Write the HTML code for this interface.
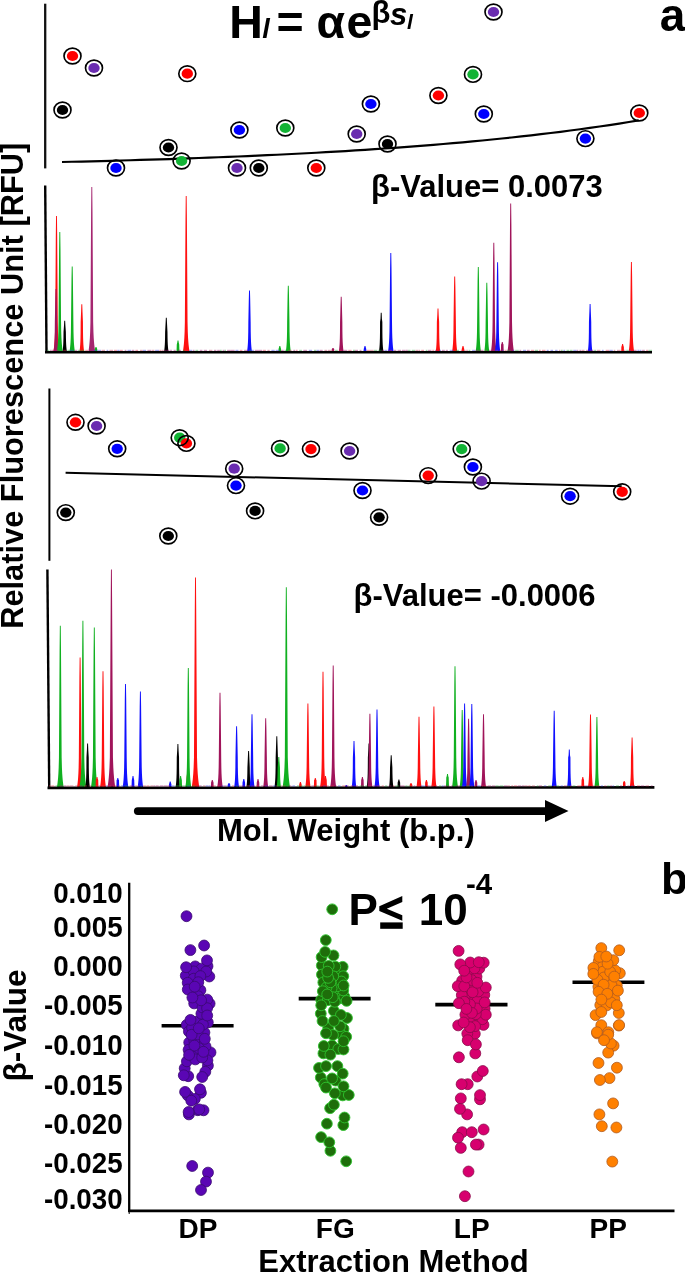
<!DOCTYPE html>
<html><head><meta charset="utf-8"><style>html,body{margin:0;padding:0;background:#fff;}svg{display:block;filter:blur(0.3px);}</style></head>
<body><svg width="685" height="1275" viewBox="0 0 685 1275">
<rect width="685" height="1275" fill="#fff"/>
<line x1="45.2" y1="3.7" x2="45.2" y2="168.4" stroke="#111" stroke-width="2.3"/>
<line x1="45.2" y1="185.4" x2="46.5" y2="352.5" stroke="#000" stroke-width="2.4"/>
<line x1="49.4" y1="388.5" x2="49.4" y2="560.8" stroke="#000" stroke-width="2"/>
<line x1="47.4" y1="569.4" x2="49.2" y2="787.5" stroke="#000" stroke-width="2.4"/>
<polygon fill="#ff1010" points="53.31,352.0 53.55,350.5 53.77,349.0 54.02,347.0 54.28,344.5 54.49,342.0 54.75,338.0 55.00,332.0 55.22,322.0 55.80,236.4 56.05,216.0 56.95,216.0 57.20,236.4 57.78,322.0 58.00,332.0 58.25,338.0 58.51,342.0 58.72,344.5 58.98,347.0 59.23,349.0 59.45,350.5 59.69,352.0"/>
<polygon fill="#a0145a" points="53.46,352.0 53.70,350.5 53.90,349.0 54.11,347.0 54.32,344.5 54.46,342.0 54.63,338.0 54.76,332.0 54.84,322.0 55.30,298.4 55.55,289.0 56.45,289.0 56.70,298.4 57.16,322.0 57.24,332.0 57.37,338.0 57.54,342.0 57.68,344.5 57.89,347.0 58.10,349.0 58.30,350.5 58.54,352.0"/>
<polygon fill="#10b020" points="56.75,352.0 57.00,350.5 57.21,349.0 57.45,347.0 57.70,344.5 57.90,342.0 58.14,338.0 58.37,332.0 58.55,322.0 59.10,250.0 59.35,232.0 60.25,232.0 60.50,250.0 61.05,322.0 61.23,332.0 61.46,338.0 61.70,342.0 61.90,344.5 62.15,347.0 62.39,349.0 62.60,350.5 62.85,352.0"/>
<polygon fill="#000000" points="62.45,352.0 62.68,350.5 62.86,349.0 63.05,347.0 63.22,344.5 63.33,342.0 63.45,338.0 63.53,332.0 64.00,325.5 64.25,320.8 65.15,320.8 65.40,325.5 65.87,332.0 65.95,338.0 66.07,342.0 66.18,344.5 66.35,347.0 66.54,349.0 66.72,350.5 66.95,352.0"/>
<polygon fill="#10b020" points="69.46,352.0 69.70,350.5 69.91,349.0 70.13,347.0 70.36,344.5 70.53,342.0 70.72,338.0 70.89,332.0 71.02,322.0 71.50,279.2 71.75,266.4 72.65,266.4 72.90,279.2 73.38,322.0 73.51,332.0 73.68,338.0 73.87,342.0 74.04,344.5 74.27,347.0 74.49,349.0 74.70,350.5 74.94,352.0"/>
<polygon fill="#ff1010" points="79.40,352.0 79.63,350.5 79.83,349.0 80.03,347.0 80.22,344.5 80.35,342.0 80.49,338.0 80.59,332.0 80.66,322.0 81.10,311.4 81.35,304.2 82.25,304.2 82.50,311.4 82.94,322.0 83.01,332.0 83.11,338.0 83.25,342.0 83.38,344.5 83.57,347.0 83.77,349.0 83.97,350.5 84.20,352.0"/>
<polygon fill="#a52670" points="88.34,352.0 88.59,350.5 88.82,349.0 89.08,347.0 89.35,344.5 89.58,342.0 89.87,338.0 90.16,332.0 90.44,322.0 91.10,211.8 91.35,187.0 92.25,187.0 92.50,211.8 93.16,322.0 93.44,332.0 93.73,338.0 94.02,342.0 94.25,344.5 94.52,347.0 94.78,349.0 95.01,350.5 95.25,352.0"/>
<polygon fill="#10b020" points="94.70,352.0 94.75,350.5 94.78,349.0 95.30,347.8 95.55,347.0 96.45,347.0 96.70,347.8 97.22,349.0 97.25,350.5 97.30,352.0"/>
<polygon fill="#000000" points="164.02,352.0 164.25,350.5 164.44,349.0 164.63,347.0 164.80,344.5 164.92,342.0 165.04,338.0 165.12,332.0 165.60,322.9 165.85,317.8 166.75,317.8 167.00,322.9 167.48,332.0 167.56,338.0 167.68,342.0 167.80,344.5 167.97,347.0 168.16,349.0 168.35,350.5 168.58,352.0"/>
<polygon fill="#10b020" points="176.45,352.0 176.55,350.5 176.63,349.0 176.70,347.0 176.77,344.5 177.30,342.3 177.55,340.6 178.45,340.6 178.70,342.3 179.23,344.5 179.30,347.0 179.37,349.0 179.45,350.5 179.55,352.0"/>
<polygon fill="#ff1010" points="182.83,352.0 183.08,350.5 183.30,349.0 183.55,347.0 183.83,344.5 184.05,342.0 184.33,338.0 184.61,332.0 184.86,322.0 185.50,219.4 185.75,196.0 186.65,196.0 186.90,219.4 187.54,322.0 187.79,332.0 188.07,338.0 188.35,342.0 188.57,344.5 188.85,347.0 189.10,349.0 189.32,350.5 189.57,352.0"/>
<polygon fill="#1010ff" points="246.98,352.0 247.21,350.5 247.41,349.0 247.62,347.0 247.82,344.5 247.97,342.0 248.13,338.0 248.26,332.0 248.35,322.0 248.80,299.6 249.05,290.4 249.95,290.4 250.20,299.6 250.65,322.0 250.74,332.0 250.87,338.0 251.03,342.0 251.18,344.5 251.38,347.0 251.59,349.0 251.79,350.5 252.02,352.0"/>
<polygon fill="#10b020" points="278.46,352.0 278.52,350.5 278.56,349.0 279.10,346.9 279.35,346.0 280.25,346.0 280.50,346.9 281.04,349.0 281.08,350.5 281.14,352.0"/>
<polygon fill="#10b020" points="285.73,352.0 285.97,350.5 286.17,349.0 286.39,347.0 286.59,344.5 286.75,342.0 286.91,338.0 287.05,332.0 287.14,322.0 287.60,295.6 287.85,285.7 288.75,285.7 289.00,295.6 289.46,322.0 289.55,332.0 289.69,338.0 289.85,342.0 290.01,344.5 290.21,347.0 290.43,349.0 290.63,350.5 290.87,352.0"/>
<polygon fill="#a0145a" points="331.74,352.0 331.77,350.5 331.80,349.0 332.30,348.6 332.55,348.0 333.45,348.0 333.70,348.6 334.20,349.0 334.23,350.5 334.26,352.0"/>
<polygon fill="#a0145a" points="338.73,352.0 338.97,350.5 339.17,349.0 339.37,347.0 339.57,344.5 339.71,342.0 339.86,338.0 339.98,332.0 340.05,322.0 340.50,305.1 340.75,296.8 341.65,296.8 341.90,305.1 342.35,322.0 342.42,332.0 342.54,338.0 342.69,342.0 342.83,344.5 343.03,347.0 343.23,349.0 343.43,350.5 343.67,352.0"/>
<polygon fill="#1010ff" points="363.66,352.0 363.72,350.5 363.76,349.0 364.30,346.9 364.55,346.0 365.45,346.0 365.70,346.9 366.24,349.0 366.28,350.5 366.34,352.0"/>
<polygon fill="#000000" points="378.88,352.0 379.11,350.5 379.30,349.0 379.49,347.0 379.67,344.5 379.79,342.0 379.92,338.0 380.01,332.0 380.06,322.0 380.50,318.7 380.75,312.8 381.65,312.8 381.90,318.7 382.34,322.0 382.39,332.0 382.48,338.0 382.61,342.0 382.73,344.5 382.91,347.0 383.10,349.0 383.29,350.5 383.52,352.0"/>
<polygon fill="#1010ff" points="387.94,352.0 388.18,350.5 388.39,349.0 388.63,347.0 388.86,344.5 389.04,342.0 389.25,338.0 389.45,332.0 389.59,322.0 390.10,267.9 390.35,253.0 391.25,253.0 391.50,267.9 392.01,322.0 392.15,332.0 392.35,338.0 392.56,342.0 392.74,344.5 392.97,347.0 393.21,349.0 393.42,350.5 393.66,352.0"/>
<polygon fill="#ff1010" points="435.64,352.0 435.87,350.5 436.06,349.0 436.26,347.0 436.44,344.5 436.57,342.0 436.70,338.0 436.80,332.0 436.86,322.0 437.30,315.0 437.55,308.5 438.45,308.5 438.70,315.0 439.14,322.0 439.20,332.0 439.30,338.0 439.43,342.0 439.56,344.5 439.74,347.0 439.94,349.0 440.13,350.5 440.36,352.0"/>
<polygon fill="#ff1010" points="452.05,352.0 452.29,350.5 452.49,349.0 452.71,347.0 452.93,344.5 453.09,342.0 453.27,338.0 453.42,332.0 453.53,322.0 454.00,287.7 454.25,276.4 455.15,276.4 455.40,287.7 455.87,322.0 455.98,332.0 456.13,338.0 456.31,342.0 456.47,344.5 456.69,347.0 456.91,349.0 457.11,350.5 457.35,352.0"/>
<polygon fill="#ff1010" points="461.66,352.0 461.72,350.5 461.76,349.0 462.30,346.9 462.55,346.0 463.45,346.0 463.70,346.9 464.24,349.0 464.28,350.5 464.34,352.0"/>
<polygon fill="#10b020" points="475.56,352.0 475.81,350.5 476.01,349.0 476.24,347.0 476.46,344.5 476.63,342.0 476.82,338.0 476.99,332.0 477.12,322.0 477.60,279.8 477.85,267.0 478.75,267.0 479.00,279.8 479.48,322.0 479.61,332.0 479.78,338.0 479.97,342.0 480.14,344.5 480.36,347.0 480.59,349.0 480.79,350.5 481.04,352.0"/>
<polygon fill="#10b020" points="484.21,352.0 484.45,350.5 484.65,349.0 484.86,347.0 485.07,344.5 485.23,342.0 485.40,338.0 485.54,332.0 485.64,322.0 486.10,293.2 486.35,282.8 487.25,282.8 487.50,293.2 487.96,322.0 488.06,332.0 488.20,338.0 488.37,342.0 488.53,344.5 488.74,347.0 488.95,349.0 489.15,350.5 489.39,352.0"/>
<polygon fill="#a0145a" points="490.85,352.0 491.09,350.5 491.30,349.0 491.54,347.0 491.79,344.5 491.98,342.0 492.20,338.0 492.41,332.0 492.58,322.0 493.10,259.2 493.35,242.8 494.25,242.8 494.50,259.2 495.02,322.0 495.19,332.0 495.40,338.0 495.62,342.0 495.81,344.5 496.06,347.0 496.30,349.0 496.51,350.5 496.75,352.0"/>
<polygon fill="#1010ff" points="494.82,352.0 495.07,350.5 495.27,349.0 495.50,347.0 495.73,344.5 495.90,342.0 496.10,338.0 496.28,332.0 496.41,322.0 496.90,275.8 497.15,262.3 498.05,262.3 498.30,275.8 498.79,322.0 498.92,332.0 499.10,338.0 499.30,342.0 499.47,344.5 499.70,347.0 499.93,349.0 500.13,350.5 500.38,352.0"/>
<polygon fill="#a0145a" points="500.80,352.0 500.89,350.5 500.96,349.0 501.03,347.0 501.08,344.5 501.60,343.5 501.85,342.0 502.75,342.0 503.00,343.5 503.52,344.5 503.57,347.0 503.64,349.0 503.71,350.5 503.80,352.0"/>
<polygon fill="#a0145a" points="507.39,352.0 507.64,350.5 507.86,349.0 508.12,347.0 508.38,344.5 508.60,342.0 508.87,338.0 509.14,332.0 509.38,322.0 510.00,225.7 510.25,203.4 511.15,203.4 511.40,225.7 512.02,322.0 512.26,332.0 512.53,338.0 512.80,342.0 513.02,344.5 513.28,347.0 513.54,349.0 513.76,350.5 514.01,352.0"/>
<polygon fill="#1010ff" points="587.70,352.0 587.93,350.5 588.13,349.0 588.33,347.0 588.51,344.5 588.65,342.0 588.79,338.0 588.89,332.0 588.96,322.0 589.40,311.2 589.65,304.0 590.55,304.0 590.80,311.2 591.24,322.0 591.31,332.0 591.41,338.0 591.55,342.0 591.69,344.5 591.87,347.0 592.07,349.0 592.27,350.5 592.50,352.0"/>
<polygon fill="#ff1010" points="621.18,352.0 621.26,350.5 621.31,349.0 621.36,347.0 621.90,345.2 622.15,344.0 623.05,344.0 623.30,345.2 623.84,347.0 623.89,349.0 623.94,350.5 624.02,352.0"/>
<polygon fill="#ff1010" points="628.62,352.0 628.86,350.5 629.07,349.0 629.30,347.0 629.53,344.5 629.70,342.0 629.90,338.0 630.08,332.0 630.21,322.0 630.70,275.5 630.95,262.0 631.85,262.0 632.10,275.5 632.59,322.0 632.72,332.0 632.90,338.0 633.10,342.0 633.27,344.5 633.50,347.0 633.73,349.0 633.94,350.5 634.18,352.0"/>
<polygon fill="#10b020" points="56.87,787.5 57.12,786.0 57.35,784.5 57.61,782.5 57.88,780.0 58.11,777.5 58.39,773.5 58.68,767.5 58.95,757.5 59.60,650.1 59.85,625.8 60.75,625.8 61.00,650.1 61.65,757.5 61.92,767.5 62.21,773.5 62.49,777.5 62.72,780.0 62.99,782.5 63.25,784.5 63.48,786.0 63.73,787.5"/>
<polygon fill="#ff1010" points="76.96,787.5 77.21,786.0 77.42,784.5 77.67,782.5 77.93,780.0 78.13,777.5 78.38,773.5 78.63,767.5 78.83,757.5 79.40,677.0 79.65,657.5 80.55,657.5 80.80,677.0 81.37,757.5 81.57,767.5 81.82,773.5 82.07,777.5 82.27,780.0 82.53,782.5 82.78,784.5 82.99,786.0 83.24,787.5"/>
<polygon fill="#10b020" points="79.43,787.5 79.68,786.0 79.90,784.5 80.16,782.5 80.44,780.0 80.67,777.5 80.96,773.5 81.26,767.5 81.53,757.5 82.20,645.8 82.45,620.8 83.35,620.8 83.60,645.8 84.27,757.5 84.54,767.5 84.84,773.5 85.13,777.5 85.36,780.0 85.64,782.5 85.90,784.5 86.12,786.0 86.37,787.5"/>
<polygon fill="#000000" points="85.23,787.5 85.47,786.0 85.66,784.5 85.86,782.5 86.04,780.0 86.17,777.5 86.30,773.5 86.40,767.5 86.46,757.5 86.90,750.2 87.15,743.6 88.05,743.6 88.30,750.2 88.74,757.5 88.80,767.5 88.90,773.5 89.03,777.5 89.16,780.0 89.34,782.5 89.54,784.5 89.73,786.0 89.97,787.5"/>
<polygon fill="#10b020" points="90.89,787.5 91.14,786.0 91.36,784.5 91.62,782.5 91.89,780.0 92.12,777.5 92.40,773.5 92.69,767.5 92.95,757.5 93.60,651.5 93.85,627.5 94.75,627.5 95.00,651.5 95.65,757.5 95.91,767.5 96.20,773.5 96.48,777.5 96.71,780.0 96.98,782.5 97.24,784.5 97.46,786.0 97.71,787.5"/>
<polygon fill="#ff1010" points="95.48,787.5 95.58,786.0 95.65,784.5 95.72,782.5 95.78,780.0 96.30,778.6 96.55,777.0 97.45,777.0 97.70,778.6 98.22,780.0 98.28,782.5 98.35,784.5 98.42,786.0 98.52,787.5"/>
<polygon fill="#ff1010" points="99.98,787.5 100.23,786.0 100.44,784.5 100.69,782.5 100.93,780.0 101.13,777.5 101.36,773.5 101.58,767.5 101.76,757.5 102.30,688.6 102.55,671.2 103.45,671.2 103.70,688.6 104.24,757.5 104.42,767.5 104.64,773.5 104.87,777.5 105.07,780.0 105.31,782.5 105.56,784.5 105.77,786.0 106.02,787.5"/>
<polygon fill="#a0145a" points="107.47,787.5 107.72,786.0 107.95,784.5 108.23,782.5 108.52,780.0 108.78,777.5 109.11,773.5 109.48,767.5 109.85,757.5 110.70,602.1 110.95,569.4 111.85,569.4 112.10,602.1 112.95,757.5 113.32,767.5 113.69,773.5 114.02,777.5 114.28,780.0 114.57,782.5 114.85,784.5 115.08,786.0 115.33,787.5"/>
<polygon fill="#1010ff" points="116.32,787.5 116.41,786.0 116.47,784.5 116.54,782.5 116.59,780.0 117.10,779.4 117.35,778.0 118.25,778.0 118.50,779.4 119.01,780.0 119.06,782.5 119.13,784.5 119.19,786.0 119.28,787.5"/>
<polygon fill="#1010ff" points="122.60,787.5 122.84,786.0 123.05,784.5 123.29,782.5 123.53,780.0 123.71,777.5 123.93,773.5 124.13,767.5 124.29,757.5 124.80,699.5 125.05,684.0 125.95,684.0 126.20,699.5 126.71,757.5 126.87,767.5 127.07,773.5 127.29,777.5 127.47,780.0 127.71,782.5 127.95,784.5 128.16,786.0 128.40,787.5"/>
<polygon fill="#1010ff" points="131.44,787.5 131.54,786.0 131.62,784.5 131.70,782.5 131.77,780.0 132.30,777.7 132.55,776.0 133.45,776.0 133.70,777.7 134.23,780.0 134.30,782.5 134.38,784.5 134.46,786.0 134.56,787.5"/>
<polygon fill="#1010ff" points="137.57,787.5 137.81,786.0 138.02,784.5 138.25,782.5 138.48,780.0 138.66,777.5 138.87,773.5 139.06,767.5 139.20,757.5 139.70,705.9 139.95,691.5 140.85,691.5 141.10,705.9 141.60,757.5 141.74,767.5 141.93,773.5 142.14,777.5 142.32,780.0 142.55,782.5 142.78,784.5 142.99,786.0 143.23,787.5"/>
<polygon fill="#1010ff" points="168.87,787.5 168.92,786.0 168.96,784.5 169.50,782.5 169.75,781.6 170.65,781.6 170.90,782.5 171.44,784.5 171.48,786.0 171.53,787.5"/>
<polygon fill="#000000" points="175.54,787.5 175.77,786.0 175.96,784.5 176.16,782.5 176.34,780.0 176.47,777.5 176.60,773.5 176.70,767.5 176.76,757.5 177.20,750.5 177.45,744.0 178.35,744.0 178.60,750.5 179.04,757.5 179.10,767.5 179.20,773.5 179.33,777.5 179.46,780.0 179.64,782.5 179.84,784.5 180.03,786.0 180.26,787.5"/>
<polygon fill="#10b020" points="179.04,787.5 179.14,786.0 179.22,784.5 179.30,782.5 179.37,780.0 179.90,777.7 180.15,776.0 181.05,776.0 181.30,777.7 181.83,780.0 181.90,782.5 181.98,784.5 182.06,786.0 182.16,787.5"/>
<polygon fill="#ff1010" points="186.02,787.5 186.17,786.0 186.29,784.5 186.40,782.5 186.50,780.0 186.56,777.5 187.10,773.5 187.35,771.0 188.25,771.0 188.50,773.5 189.04,777.5 189.10,780.0 189.20,782.5 189.31,784.5 189.43,786.0 189.58,787.5"/>
<polygon fill="#10b020" points="185.25,787.5 185.50,786.0 185.72,784.5 185.96,782.5 186.21,780.0 186.41,777.5 186.64,773.5 186.87,767.5 187.05,757.5 187.60,685.9 187.85,668.0 188.75,668.0 189.00,685.9 189.55,757.5 189.73,767.5 189.96,773.5 190.19,777.5 190.39,780.0 190.64,782.5 190.88,784.5 191.10,786.0 191.35,787.5"/>
<polygon fill="#ff1010" points="191.64,787.5 191.89,786.0 192.12,784.5 192.39,782.5 192.69,780.0 192.94,777.5 193.27,773.5 193.63,767.5 193.98,757.5 194.80,608.9 195.05,577.4 195.95,577.4 196.20,608.9 197.02,757.5 197.37,767.5 197.73,773.5 198.06,777.5 198.31,780.0 198.61,782.5 198.88,784.5 199.11,786.0 199.36,787.5"/>
<polygon fill="#a0145a" points="210.90,787.5 210.97,786.0 211.02,784.5 211.07,782.5 211.60,781.1 211.85,780.0 212.75,780.0 213.00,781.1 213.53,782.5 213.58,784.5 213.63,786.0 213.70,787.5"/>
<polygon fill="#a0145a" points="217.18,787.5 217.42,786.0 217.63,784.5 217.86,782.5 218.09,780.0 218.27,777.5 218.48,773.5 218.66,767.5 218.80,757.5 219.30,707.0 219.55,692.8 220.45,692.8 220.70,707.0 221.20,757.5 221.34,767.5 221.52,773.5 221.73,777.5 221.91,780.0 222.14,782.5 222.37,784.5 222.58,786.0 222.82,787.5"/>
<polygon fill="#1010ff" points="227.72,787.5 227.76,786.0 227.79,784.5 228.30,783.7 228.55,783.0 229.45,783.0 229.70,783.7 230.21,784.5 230.24,786.0 230.28,787.5"/>
<polygon fill="#1010ff" points="234.08,787.5 234.32,786.0 234.51,784.5 234.73,782.5 234.93,780.0 235.07,777.5 235.23,773.5 235.36,767.5 235.45,757.5 235.90,735.5 236.15,726.3 237.05,726.3 237.30,735.5 237.75,757.5 237.84,767.5 237.97,773.5 238.13,777.5 238.27,780.0 238.47,782.5 238.69,784.5 238.88,786.0 239.12,787.5"/>
<polygon fill="#1010ff" points="242.36,787.5 242.44,786.0 242.50,784.5 242.55,782.5 243.10,780.3 243.35,779.0 244.25,779.0 244.50,780.3 245.05,782.5 245.10,784.5 245.16,786.0 245.24,787.5"/>
<polygon fill="#000000" points="246.30,787.5 246.53,786.0 246.72,784.5 246.91,782.5 247.09,780.0 247.21,777.5 247.33,773.5 247.42,767.5 247.90,756.5 248.15,751.0 249.05,751.0 249.30,756.5 249.78,767.5 249.87,773.5 249.99,777.5 250.11,780.0 250.29,782.5 250.48,784.5 250.67,786.0 250.90,787.5"/>
<polygon fill="#1010ff" points="249.37,787.5 249.61,786.0 249.81,784.5 250.03,782.5 250.25,780.0 250.40,777.5 250.58,773.5 250.73,767.5 250.83,757.5 251.30,725.3 251.55,714.3 252.45,714.3 252.70,725.3 253.17,757.5 253.27,767.5 253.42,773.5 253.60,777.5 253.75,780.0 253.97,782.5 254.19,784.5 254.39,786.0 254.63,787.5"/>
<polygon fill="#a0145a" points="256.56,787.5 256.64,786.0 256.70,784.5 256.75,782.5 257.30,780.3 257.55,779.0 258.45,779.0 258.70,780.3 259.25,782.5 259.30,784.5 259.36,786.0 259.44,787.5"/>
<polygon fill="#a0145a" points="263.11,787.5 263.35,786.0 263.55,784.5 263.76,782.5 263.97,780.0 264.13,777.5 264.30,773.5 264.44,767.5 264.54,757.5 265.00,728.7 265.25,718.3 266.15,718.3 266.40,728.7 266.86,757.5 266.96,767.5 267.10,773.5 267.27,777.5 267.43,780.0 267.64,782.5 267.85,784.5 268.05,786.0 268.29,787.5"/>
<polygon fill="#000000" points="274.37,787.5 274.60,786.0 274.80,784.5 275.00,782.5 275.19,780.0 275.33,777.5 275.47,773.5 275.59,767.5 275.66,757.5 276.10,743.9 276.35,736.2 277.25,736.2 277.50,743.9 277.94,757.5 278.01,767.5 278.13,773.5 278.27,777.5 278.41,780.0 278.60,782.5 278.80,784.5 279.00,786.0 279.23,787.5"/>
<polygon fill="#10b020" points="276.56,787.5 276.79,786.0 276.97,784.5 277.16,782.5 277.32,780.0 277.44,777.5 277.55,773.5 277.63,767.5 278.10,761.6 278.35,757.0 279.25,757.0 279.50,761.6 279.97,767.5 280.05,773.5 280.16,777.5 280.28,780.0 280.44,782.5 280.63,784.5 280.81,786.0 281.04,787.5"/>
<polygon fill="#10b020" points="282.53,787.5 282.78,786.0 283.01,784.5 283.28,782.5 283.57,780.0 283.82,777.5 284.14,773.5 284.48,767.5 284.82,757.5 285.60,617.3 285.85,587.3 286.75,587.3 287.00,617.3 287.78,757.5 288.12,767.5 288.46,773.5 288.78,777.5 289.03,780.0 289.32,782.5 289.59,784.5 289.82,786.0 290.07,787.5"/>
<polygon fill="#ff1010" points="299.08,787.5 299.13,786.0 299.17,784.5 299.70,782.8 299.95,782.0 300.85,782.0 301.10,782.8 301.63,784.5 301.67,786.0 301.72,787.5"/>
<polygon fill="#ff1010" points="305.17,787.5 305.41,786.0 305.62,784.5 305.85,782.5 306.07,780.0 306.24,777.5 306.43,773.5 306.60,767.5 306.72,757.5 307.20,716.0 307.45,703.4 308.35,703.4 308.60,716.0 309.08,757.5 309.20,767.5 309.37,773.5 309.56,777.5 309.73,780.0 309.95,782.5 310.18,784.5 310.39,786.0 310.63,787.5"/>
<polygon fill="#ff1010" points="313.82,787.5 313.91,786.0 313.97,784.5 314.04,782.5 314.09,780.0 314.60,779.4 314.85,778.0 315.75,778.0 316.00,779.4 316.51,780.0 316.56,782.5 316.63,784.5 316.69,786.0 316.78,787.5"/>
<polygon fill="#ff1010" points="319.99,787.5 320.23,786.0 320.45,784.5 320.69,782.5 320.94,780.0 321.13,777.5 321.36,773.5 321.58,767.5 321.76,757.5 322.30,689.1 322.55,671.7 323.45,671.7 323.70,689.1 324.24,757.5 324.42,767.5 324.64,773.5 324.87,777.5 325.06,780.0 325.31,782.5 325.55,784.5 325.77,786.0 326.01,787.5"/>
<polygon fill="#ff1010" points="323.94,787.5 324.04,786.0 324.12,784.5 324.20,782.5 324.27,780.0 324.80,777.7 325.05,776.0 325.95,776.0 326.20,777.7 326.73,780.0 326.80,782.5 326.88,784.5 326.96,786.0 327.06,787.5"/>
<polygon fill="#a0145a" points="330.13,787.5 330.38,786.0 330.59,784.5 330.84,782.5 331.09,780.0 331.29,777.5 331.53,773.5 331.76,767.5 331.95,757.5 332.50,683.8 332.75,665.5 333.65,665.5 333.90,683.8 334.45,757.5 334.64,767.5 334.87,773.5 335.11,777.5 335.31,780.0 335.56,782.5 335.81,784.5 336.02,786.0 336.27,787.5"/>
<polygon fill="#1010ff" points="345.09,787.5 345.11,786.0 345.60,785.4 345.85,785.0 346.75,785.0 347.00,785.4 347.49,786.0 347.51,787.5"/>
<polygon fill="#1010ff" points="351.61,787.5 351.85,786.0 352.04,784.5 352.24,782.5 352.43,780.0 352.56,777.5 352.69,773.5 352.80,767.5 352.86,757.5 353.30,748.1 353.55,741.1 354.45,741.1 354.70,748.1 355.14,757.5 355.20,767.5 355.31,773.5 355.44,777.5 355.57,780.0 355.76,782.5 355.96,784.5 356.15,786.0 356.39,787.5"/>
<polygon fill="#a0145a" points="360.88,787.5 360.98,786.0 361.05,784.5 361.12,782.5 361.18,780.0 361.70,778.6 361.95,777.0 362.85,777.0 363.10,778.6 363.62,780.0 363.68,782.5 363.75,784.5 363.82,786.0 363.92,787.5"/>
<polygon fill="#000000" points="366.63,787.5 366.87,786.0 367.06,784.5 367.26,782.5 367.44,780.0 367.57,777.5 367.70,773.5 367.80,767.5 367.86,757.5 368.30,750.2 368.55,743.6 369.45,743.6 369.70,750.2 370.14,757.5 370.20,767.5 370.30,773.5 370.43,777.5 370.56,780.0 370.74,782.5 370.94,784.5 371.13,786.0 371.37,787.5"/>
<polygon fill="#a0145a" points="367.27,787.5 367.51,786.0 367.71,784.5 367.93,782.5 368.14,780.0 368.30,777.5 368.48,773.5 368.63,767.5 368.73,757.5 369.20,724.9 369.45,713.8 370.35,713.8 370.60,724.9 371.07,757.5 371.17,767.5 371.32,773.5 371.50,777.5 371.66,780.0 371.87,782.5 372.09,784.5 372.29,786.0 372.53,787.5"/>
<polygon fill="#1010ff" points="374.33,787.5 374.57,786.0 374.77,784.5 374.99,782.5 375.21,780.0 375.37,777.5 375.56,773.5 375.72,767.5 375.83,757.5 376.30,721.1 376.55,709.4 377.45,709.4 377.70,721.1 378.17,757.5 378.28,767.5 378.44,773.5 378.63,777.5 378.79,780.0 379.01,782.5 379.23,784.5 379.43,786.0 379.67,787.5"/>
<polygon fill="#000000" points="388.94,787.5 389.17,786.0 389.36,784.5 389.55,782.5 389.71,780.0 389.83,777.5 389.94,773.5 390.02,767.5 390.50,760.1 390.75,755.3 391.65,755.3 391.90,760.1 392.38,767.5 392.46,773.5 392.57,777.5 392.69,780.0 392.85,782.5 393.04,784.5 393.23,786.0 393.46,787.5"/>
<polygon fill="#000000" points="397.49,787.5 397.56,786.0 397.61,784.5 397.66,782.5 398.20,780.8 398.45,779.6 399.35,779.6 399.60,780.8 400.14,782.5 400.19,784.5 400.24,786.0 400.31,787.5"/>
<polygon fill="#ff1010" points="409.72,787.5 409.76,786.0 409.79,784.5 410.30,783.7 410.55,783.0 411.45,783.0 411.70,783.7 412.21,784.5 412.24,786.0 412.28,787.5"/>
<polygon fill="#ff1010" points="416.39,787.5 416.63,786.0 416.83,784.5 417.05,782.5 417.26,780.0 417.42,777.5 417.59,773.5 417.74,767.5 417.84,757.5 418.30,727.4 418.55,716.8 419.45,716.8 419.70,727.4 420.16,757.5 420.26,767.5 420.41,773.5 420.58,777.5 420.74,780.0 420.95,782.5 421.17,784.5 421.37,786.0 421.61,787.5"/>
<polygon fill="#ff1010" points="425.00,787.5 425.07,786.0 425.12,784.5 425.17,782.5 425.70,781.1 425.95,780.0 426.85,780.0 427.10,781.1 427.63,782.5 427.68,784.5 427.73,786.0 427.80,787.5"/>
<polygon fill="#ff1010" points="431.20,787.5 431.44,786.0 431.65,784.5 431.87,782.5 432.09,780.0 432.26,777.5 432.44,773.5 432.61,767.5 432.72,757.5 433.20,718.6 433.45,706.4 434.35,706.4 434.60,718.6 435.08,757.5 435.19,767.5 435.36,773.5 435.54,777.5 435.71,780.0 435.93,782.5 436.15,784.5 436.36,786.0 436.60,787.5"/>
<polygon fill="#10b020" points="445.86,787.5 445.98,786.0 446.07,784.5 446.16,782.5 446.24,780.0 446.29,777.5 446.80,776.0 447.05,774.0 447.95,774.0 448.20,776.0 448.71,777.5 448.76,780.0 448.84,782.5 448.93,784.5 449.02,786.0 449.14,787.5"/>
<polygon fill="#10b020" points="451.94,787.5 452.18,786.0 452.40,784.5 452.64,782.5 452.89,780.0 453.09,777.5 453.33,773.5 453.56,767.5 453.75,757.5 454.30,684.4 454.55,666.2 455.45,666.2 455.70,684.4 456.25,757.5 456.44,767.5 456.67,773.5 456.91,777.5 457.11,780.0 457.36,782.5 457.60,784.5 457.82,786.0 458.06,787.5"/>
<polygon fill="#10b020" points="459.53,787.5 459.77,786.0 459.98,784.5 460.20,782.5 460.42,780.0 460.58,777.5 460.76,773.5 460.92,767.5 461.03,757.5 461.50,721.6 461.75,710.0 462.65,710.0 462.90,721.6 463.37,757.5 463.48,767.5 463.64,773.5 463.82,777.5 463.98,780.0 464.20,782.5 464.42,784.5 464.63,786.0 464.87,787.5"/>
<polygon fill="#1010ff" points="461.87,787.5 462.11,786.0 462.32,784.5 462.55,782.5 462.77,780.0 462.94,777.5 463.13,773.5 463.30,767.5 463.42,757.5 463.90,716.0 464.15,703.4 465.05,703.4 465.30,716.0 465.78,757.5 465.90,767.5 466.07,773.5 466.26,777.5 466.43,780.0 466.65,782.5 466.88,784.5 467.09,786.0 467.33,787.5"/>
<polygon fill="#a0145a" points="466.01,787.5 466.25,786.0 466.45,784.5 466.67,782.5 466.88,780.0 467.03,777.5 467.20,773.5 467.34,767.5 467.44,757.5 467.90,729.1 468.15,718.8 469.05,718.8 469.30,729.1 469.76,757.5 469.86,767.5 470.00,773.5 470.17,777.5 470.32,780.0 470.53,782.5 470.75,784.5 470.95,786.0 471.19,787.5"/>
<polygon fill="#1010ff" points="469.08,787.5 469.32,786.0 469.52,784.5 469.75,782.5 469.97,780.0 470.14,777.5 470.33,773.5 470.50,767.5 470.62,757.5 471.10,716.4 471.35,703.9 472.25,703.9 472.50,716.4 472.98,757.5 473.10,767.5 473.27,773.5 473.46,777.5 473.63,780.0 473.85,782.5 474.08,784.5 474.28,786.0 474.52,787.5"/>
<polygon fill="#a0145a" points="474.60,787.5 474.67,786.0 474.72,784.5 474.77,782.5 475.30,781.1 475.55,780.0 476.45,780.0 476.70,781.1 477.23,782.5 477.28,784.5 477.33,786.0 477.40,787.5"/>
<polygon fill="#a0145a" points="480.87,787.5 481.11,786.0 481.31,784.5 481.53,782.5 481.75,780.0 481.90,777.5 482.08,773.5 482.23,767.5 482.33,757.5 482.80,725.3 483.05,714.3 483.95,714.3 484.20,725.3 484.67,757.5 484.77,767.5 484.92,773.5 485.10,777.5 485.25,780.0 485.47,782.5 485.69,784.5 485.89,786.0 486.13,787.5"/>
<polygon fill="#1010ff" points="551.54,787.5 551.78,786.0 551.98,784.5 552.20,782.5 552.42,780.0 552.58,777.5 552.76,773.5 552.92,767.5 553.03,757.5 553.50,722.2 553.75,710.7 554.65,710.7 554.90,722.2 555.37,757.5 555.48,767.5 555.64,773.5 555.82,777.5 555.98,780.0 556.20,782.5 556.42,784.5 556.62,786.0 556.86,787.5"/>
<polygon fill="#1010ff" points="566.99,787.5 567.22,786.0 567.41,784.5 567.60,782.5 567.78,780.0 567.90,777.5 568.02,773.5 568.11,767.5 568.16,757.5 568.60,755.3 568.85,749.6 569.75,749.6 570.00,755.3 570.44,757.5 570.49,767.5 570.58,773.5 570.70,777.5 570.82,780.0 571.00,782.5 571.19,784.5 571.38,786.0 571.61,787.5"/>
<polygon fill="#ff1010" points="581.28,787.5 581.38,786.0 581.45,784.5 581.52,782.5 581.58,780.0 582.10,778.6 582.35,777.0 583.25,777.0 583.50,778.6 584.02,780.0 584.08,782.5 584.15,784.5 584.22,786.0 584.32,787.5"/>
<polygon fill="#ff1010" points="587.87,787.5 588.11,786.0 588.32,784.5 588.54,782.5 588.75,780.0 588.91,777.5 589.08,773.5 589.23,767.5 589.33,757.5 589.80,725.5 590.05,714.6 590.95,714.6 591.20,725.5 591.67,757.5 591.77,767.5 591.92,773.5 592.09,777.5 592.25,780.0 592.46,782.5 592.68,784.5 592.89,786.0 593.13,787.5"/>
<polygon fill="#10b020" points="594.30,787.5 594.54,786.0 594.74,784.5 594.96,782.5 595.16,780.0 595.32,777.5 595.49,773.5 595.64,767.5 595.74,757.5 596.20,727.7 596.45,717.1 597.35,717.1 597.60,727.7 598.06,757.5 598.16,767.5 598.31,773.5 598.48,777.5 598.64,780.0 598.84,782.5 599.06,784.5 599.26,786.0 599.50,787.5"/>
<polygon fill="#ff1010" points="622.84,787.5 622.90,786.0 622.95,784.5 622.99,782.5 623.50,782.0 623.75,781.0 624.65,781.0 624.90,782.0 625.41,782.5 625.45,784.5 625.50,786.0 625.56,787.5"/>
<polygon fill="#ff1010" points="629.68,787.5 629.92,786.0 630.11,784.5 630.31,782.5 630.50,780.0 630.64,777.5 630.78,773.5 630.89,767.5 630.96,757.5 631.40,745.1 631.65,737.6 632.55,737.6 632.80,745.1 633.24,757.5 633.31,767.5 633.42,773.5 633.56,777.5 633.70,780.0 633.89,782.5 634.09,784.5 634.28,786.0 634.52,787.5"/>
<line x1="45" y1="352.3" x2="652" y2="352.3" stroke="#000" stroke-width="2.4"/>
<line x1="47.5" y1="787.9" x2="654.4" y2="787.4" stroke="#000" stroke-width="2.6"/>
<line x1="47.0" y1="350.4" x2="49.3" y2="350.4" stroke="#30a040" stroke-width="1.2" opacity="0.45"/>
<line x1="50.1" y1="350.4" x2="51.7" y2="350.4" stroke="#a02070" stroke-width="1.2" opacity="0.45"/>
<line x1="51.9" y1="350.4" x2="54.9" y2="350.4" stroke="#a02070" stroke-width="1.2" opacity="0.45"/>
<line x1="55.3" y1="350.4" x2="57.0" y2="350.4" stroke="#a02070" stroke-width="1.2" opacity="0.45"/>
<line x1="57.1" y1="350.4" x2="58.9" y2="350.4" stroke="#a02070" stroke-width="1.2" opacity="0.45"/>
<line x1="59.0" y1="350.4" x2="61.9" y2="350.4" stroke="#30a040" stroke-width="1.2" opacity="0.45"/>
<line x1="63.2" y1="350.4" x2="66.1" y2="350.4" stroke="#e03050" stroke-width="1.2" opacity="0.45"/>
<line x1="67.3" y1="350.4" x2="69.8" y2="350.4" stroke="#30a040" stroke-width="1.2" opacity="0.45"/>
<line x1="69.9" y1="350.4" x2="73.5" y2="350.4" stroke="#4040e0" stroke-width="1.2" opacity="0.45"/>
<line x1="74.4" y1="350.4" x2="77.2" y2="350.4" stroke="#a02070" stroke-width="1.2" opacity="0.45"/>
<line x1="77.8" y1="350.4" x2="81.4" y2="350.4" stroke="#30a040" stroke-width="1.2" opacity="0.45"/>
<line x1="81.6" y1="350.4" x2="84.5" y2="350.4" stroke="#30a040" stroke-width="1.2" opacity="0.45"/>
<line x1="85.2" y1="350.4" x2="88.1" y2="350.4" stroke="#e03050" stroke-width="1.2" opacity="0.45"/>
<line x1="89.2" y1="350.4" x2="92.3" y2="350.4" stroke="#a02070" stroke-width="1.2" opacity="0.45"/>
<line x1="93.6" y1="350.4" x2="96.2" y2="350.4" stroke="#4040e0" stroke-width="1.2" opacity="0.45"/>
<line x1="97.1" y1="350.4" x2="101.0" y2="350.4" stroke="#4040e0" stroke-width="1.2" opacity="0.45"/>
<line x1="101.6" y1="350.4" x2="105.0" y2="350.4" stroke="#c04060" stroke-width="1.2" opacity="0.45"/>
<line x1="106.6" y1="350.4" x2="108.3" y2="350.4" stroke="#4040e0" stroke-width="1.2" opacity="0.45"/>
<line x1="109.4" y1="350.4" x2="113.0" y2="350.4" stroke="#c04060" stroke-width="1.2" opacity="0.45"/>
<line x1="113.9" y1="350.4" x2="117.0" y2="350.4" stroke="#e03050" stroke-width="1.2" opacity="0.45"/>
<line x1="117.2" y1="350.4" x2="119.7" y2="350.4" stroke="#4040e0" stroke-width="1.2" opacity="0.45"/>
<line x1="120.0" y1="350.4" x2="122.8" y2="350.4" stroke="#e03050" stroke-width="1.2" opacity="0.45"/>
<line x1="124.7" y1="350.4" x2="126.4" y2="350.4" stroke="#a02070" stroke-width="1.2" opacity="0.45"/>
<line x1="127.5" y1="350.4" x2="131.2" y2="350.4" stroke="#4040e0" stroke-width="1.2" opacity="0.45"/>
<line x1="131.9" y1="350.4" x2="134.3" y2="350.4" stroke="#a02070" stroke-width="1.2" opacity="0.45"/>
<line x1="135.4" y1="350.4" x2="138.1" y2="350.4" stroke="#e03050" stroke-width="1.2" opacity="0.45"/>
<line x1="140.0" y1="350.4" x2="142.7" y2="350.4" stroke="#c04060" stroke-width="1.2" opacity="0.45"/>
<line x1="142.8" y1="350.4" x2="146.1" y2="350.4" stroke="#4040e0" stroke-width="1.2" opacity="0.45"/>
<line x1="147.4" y1="350.4" x2="151.4" y2="350.4" stroke="#a02070" stroke-width="1.2" opacity="0.45"/>
<line x1="152.0" y1="350.4" x2="154.4" y2="350.4" stroke="#c04060" stroke-width="1.2" opacity="0.45"/>
<line x1="155.1" y1="350.4" x2="159.0" y2="350.4" stroke="#4040e0" stroke-width="1.2" opacity="0.45"/>
<line x1="159.3" y1="350.4" x2="161.1" y2="350.4" stroke="#e03050" stroke-width="1.2" opacity="0.45"/>
<line x1="161.5" y1="350.4" x2="163.8" y2="350.4" stroke="#c04060" stroke-width="1.2" opacity="0.45"/>
<line x1="164.2" y1="350.4" x2="166.7" y2="350.4" stroke="#a02070" stroke-width="1.2" opacity="0.45"/>
<line x1="166.9" y1="350.4" x2="169.5" y2="350.4" stroke="#a02070" stroke-width="1.2" opacity="0.45"/>
<line x1="170.1" y1="350.4" x2="171.9" y2="350.4" stroke="#a02070" stroke-width="1.2" opacity="0.45"/>
<line x1="173.6" y1="350.4" x2="175.8" y2="350.4" stroke="#a02070" stroke-width="1.2" opacity="0.45"/>
<line x1="177.8" y1="350.4" x2="181.0" y2="350.4" stroke="#a02070" stroke-width="1.2" opacity="0.45"/>
<line x1="182.9" y1="350.4" x2="184.8" y2="350.4" stroke="#30a040" stroke-width="1.2" opacity="0.45"/>
<line x1="185.1" y1="350.4" x2="188.3" y2="350.4" stroke="#e03050" stroke-width="1.2" opacity="0.45"/>
<line x1="189.2" y1="350.4" x2="192.2" y2="350.4" stroke="#4040e0" stroke-width="1.2" opacity="0.45"/>
<line x1="192.8" y1="350.4" x2="194.6" y2="350.4" stroke="#a02070" stroke-width="1.2" opacity="0.45"/>
<line x1="195.4" y1="350.4" x2="198.3" y2="350.4" stroke="#30a040" stroke-width="1.2" opacity="0.45"/>
<line x1="199.7" y1="350.4" x2="202.4" y2="350.4" stroke="#a02070" stroke-width="1.2" opacity="0.45"/>
<line x1="203.8" y1="350.4" x2="207.1" y2="350.4" stroke="#a02070" stroke-width="1.2" opacity="0.45"/>
<line x1="208.9" y1="350.4" x2="212.4" y2="350.4" stroke="#c04060" stroke-width="1.2" opacity="0.45"/>
<line x1="213.9" y1="350.4" x2="216.4" y2="350.4" stroke="#a02070" stroke-width="1.2" opacity="0.45"/>
<line x1="217.2" y1="350.4" x2="219.9" y2="350.4" stroke="#a02070" stroke-width="1.2" opacity="0.45"/>
<line x1="220.0" y1="350.4" x2="221.7" y2="350.4" stroke="#30a040" stroke-width="1.2" opacity="0.45"/>
<line x1="222.6" y1="350.4" x2="224.4" y2="350.4" stroke="#a02070" stroke-width="1.2" opacity="0.45"/>
<line x1="224.5" y1="350.4" x2="226.0" y2="350.4" stroke="#30a040" stroke-width="1.2" opacity="0.45"/>
<line x1="227.1" y1="350.4" x2="230.9" y2="350.4" stroke="#a02070" stroke-width="1.2" opacity="0.45"/>
<line x1="231.0" y1="350.4" x2="234.7" y2="350.4" stroke="#a02070" stroke-width="1.2" opacity="0.45"/>
<line x1="235.4" y1="350.4" x2="238.5" y2="350.4" stroke="#4040e0" stroke-width="1.2" opacity="0.45"/>
<line x1="239.7" y1="350.4" x2="242.4" y2="350.4" stroke="#e03050" stroke-width="1.2" opacity="0.45"/>
<line x1="244.1" y1="350.4" x2="248.1" y2="350.4" stroke="#a02070" stroke-width="1.2" opacity="0.45"/>
<line x1="249.0" y1="350.4" x2="251.3" y2="350.4" stroke="#30a040" stroke-width="1.2" opacity="0.45"/>
<line x1="251.5" y1="350.4" x2="253.9" y2="350.4" stroke="#4040e0" stroke-width="1.2" opacity="0.45"/>
<line x1="254.8" y1="350.4" x2="258.1" y2="350.4" stroke="#a02070" stroke-width="1.2" opacity="0.45"/>
<line x1="258.1" y1="350.4" x2="262.0" y2="350.4" stroke="#a02070" stroke-width="1.2" opacity="0.45"/>
<line x1="262.7" y1="350.4" x2="265.9" y2="350.4" stroke="#e03050" stroke-width="1.2" opacity="0.45"/>
<line x1="267.4" y1="350.4" x2="269.7" y2="350.4" stroke="#c04060" stroke-width="1.2" opacity="0.45"/>
<line x1="271.4" y1="350.4" x2="274.7" y2="350.4" stroke="#4040e0" stroke-width="1.2" opacity="0.45"/>
<line x1="275.7" y1="350.4" x2="279.5" y2="350.4" stroke="#4040e0" stroke-width="1.2" opacity="0.45"/>
<line x1="281.0" y1="350.4" x2="283.8" y2="350.4" stroke="#a02070" stroke-width="1.2" opacity="0.45"/>
<line x1="284.5" y1="350.4" x2="286.6" y2="350.4" stroke="#30a040" stroke-width="1.2" opacity="0.45"/>
<line x1="288.2" y1="350.4" x2="291.7" y2="350.4" stroke="#c04060" stroke-width="1.2" opacity="0.45"/>
<line x1="293.3" y1="350.4" x2="295.3" y2="350.4" stroke="#a02070" stroke-width="1.2" opacity="0.45"/>
<line x1="296.0" y1="350.4" x2="297.6" y2="350.4" stroke="#e03050" stroke-width="1.2" opacity="0.45"/>
<line x1="299.2" y1="350.4" x2="301.9" y2="350.4" stroke="#30a040" stroke-width="1.2" opacity="0.45"/>
<line x1="303.3" y1="350.4" x2="307.1" y2="350.4" stroke="#a02070" stroke-width="1.2" opacity="0.45"/>
<line x1="308.8" y1="350.4" x2="312.1" y2="350.4" stroke="#4040e0" stroke-width="1.2" opacity="0.45"/>
<line x1="314.0" y1="350.4" x2="316.4" y2="350.4" stroke="#30a040" stroke-width="1.2" opacity="0.45"/>
<line x1="316.6" y1="350.4" x2="319.3" y2="350.4" stroke="#4040e0" stroke-width="1.2" opacity="0.45"/>
<line x1="319.7" y1="350.4" x2="322.7" y2="350.4" stroke="#a02070" stroke-width="1.2" opacity="0.45"/>
<line x1="324.4" y1="350.4" x2="327.1" y2="350.4" stroke="#c04060" stroke-width="1.2" opacity="0.45"/>
<line x1="327.8" y1="350.4" x2="330.9" y2="350.4" stroke="#c04060" stroke-width="1.2" opacity="0.45"/>
<line x1="331.2" y1="350.4" x2="333.6" y2="350.4" stroke="#c04060" stroke-width="1.2" opacity="0.45"/>
<line x1="335.1" y1="350.4" x2="337.8" y2="350.4" stroke="#30a040" stroke-width="1.2" opacity="0.45"/>
<line x1="338.7" y1="350.4" x2="341.8" y2="350.4" stroke="#e03050" stroke-width="1.2" opacity="0.45"/>
<line x1="343.4" y1="350.4" x2="347.3" y2="350.4" stroke="#a02070" stroke-width="1.2" opacity="0.45"/>
<line x1="348.2" y1="350.4" x2="351.6" y2="350.4" stroke="#e03050" stroke-width="1.2" opacity="0.45"/>
<line x1="353.0" y1="350.4" x2="355.0" y2="350.4" stroke="#30a040" stroke-width="1.2" opacity="0.45"/>
<line x1="355.0" y1="350.4" x2="358.0" y2="350.4" stroke="#a02070" stroke-width="1.2" opacity="0.45"/>
<line x1="359.6" y1="350.4" x2="361.5" y2="350.4" stroke="#a02070" stroke-width="1.2" opacity="0.45"/>
<line x1="363.4" y1="350.4" x2="366.6" y2="350.4" stroke="#4040e0" stroke-width="1.2" opacity="0.45"/>
<line x1="366.9" y1="350.4" x2="369.8" y2="350.4" stroke="#e03050" stroke-width="1.2" opacity="0.45"/>
<line x1="369.8" y1="350.4" x2="373.7" y2="350.4" stroke="#c04060" stroke-width="1.2" opacity="0.45"/>
<line x1="373.9" y1="350.4" x2="377.3" y2="350.4" stroke="#30a040" stroke-width="1.2" opacity="0.45"/>
<line x1="378.2" y1="350.4" x2="381.8" y2="350.4" stroke="#30a040" stroke-width="1.2" opacity="0.45"/>
<line x1="381.9" y1="350.4" x2="383.9" y2="350.4" stroke="#a02070" stroke-width="1.2" opacity="0.45"/>
<line x1="384.4" y1="350.4" x2="387.4" y2="350.4" stroke="#4040e0" stroke-width="1.2" opacity="0.45"/>
<line x1="388.5" y1="350.4" x2="392.1" y2="350.4" stroke="#e03050" stroke-width="1.2" opacity="0.45"/>
<line x1="393.9" y1="350.4" x2="396.3" y2="350.4" stroke="#a02070" stroke-width="1.2" opacity="0.45"/>
<line x1="397.6" y1="350.4" x2="401.1" y2="350.4" stroke="#a02070" stroke-width="1.2" opacity="0.45"/>
<line x1="402.0" y1="350.4" x2="405.8" y2="350.4" stroke="#a02070" stroke-width="1.2" opacity="0.45"/>
<line x1="406.0" y1="350.4" x2="407.9" y2="350.4" stroke="#a02070" stroke-width="1.2" opacity="0.45"/>
<line x1="407.9" y1="350.4" x2="410.5" y2="350.4" stroke="#30a040" stroke-width="1.2" opacity="0.45"/>
<line x1="411.8" y1="350.4" x2="415.2" y2="350.4" stroke="#30a040" stroke-width="1.2" opacity="0.45"/>
<line x1="415.5" y1="350.4" x2="418.2" y2="350.4" stroke="#c04060" stroke-width="1.2" opacity="0.45"/>
<line x1="418.5" y1="350.4" x2="420.1" y2="350.4" stroke="#c04060" stroke-width="1.2" opacity="0.45"/>
<line x1="421.2" y1="350.4" x2="424.0" y2="350.4" stroke="#e03050" stroke-width="1.2" opacity="0.45"/>
<line x1="425.8" y1="350.4" x2="427.5" y2="350.4" stroke="#30a040" stroke-width="1.2" opacity="0.45"/>
<line x1="428.0" y1="350.4" x2="431.4" y2="350.4" stroke="#a02070" stroke-width="1.2" opacity="0.45"/>
<line x1="432.3" y1="350.4" x2="433.9" y2="350.4" stroke="#e03050" stroke-width="1.2" opacity="0.45"/>
<line x1="434.8" y1="350.4" x2="437.8" y2="350.4" stroke="#a02070" stroke-width="1.2" opacity="0.45"/>
<line x1="439.0" y1="350.4" x2="441.0" y2="350.4" stroke="#4040e0" stroke-width="1.2" opacity="0.45"/>
<line x1="441.9" y1="350.4" x2="444.8" y2="350.4" stroke="#a02070" stroke-width="1.2" opacity="0.45"/>
<line x1="445.8" y1="350.4" x2="447.9" y2="350.4" stroke="#a02070" stroke-width="1.2" opacity="0.45"/>
<line x1="449.7" y1="350.4" x2="453.5" y2="350.4" stroke="#4040e0" stroke-width="1.2" opacity="0.45"/>
<line x1="455.4" y1="350.4" x2="459.1" y2="350.4" stroke="#30a040" stroke-width="1.2" opacity="0.45"/>
<line x1="460.8" y1="350.4" x2="462.6" y2="350.4" stroke="#e03050" stroke-width="1.2" opacity="0.45"/>
<line x1="463.4" y1="350.4" x2="465.7" y2="350.4" stroke="#c04060" stroke-width="1.2" opacity="0.45"/>
<line x1="466.2" y1="350.4" x2="467.9" y2="350.4" stroke="#c04060" stroke-width="1.2" opacity="0.45"/>
<line x1="468.5" y1="350.4" x2="470.3" y2="350.4" stroke="#30a040" stroke-width="1.2" opacity="0.45"/>
<line x1="472.1" y1="350.4" x2="475.3" y2="350.4" stroke="#4040e0" stroke-width="1.2" opacity="0.45"/>
<line x1="475.5" y1="350.4" x2="479.3" y2="350.4" stroke="#a02070" stroke-width="1.2" opacity="0.45"/>
<line x1="479.7" y1="350.4" x2="483.6" y2="350.4" stroke="#a02070" stroke-width="1.2" opacity="0.45"/>
<line x1="485.3" y1="350.4" x2="487.2" y2="350.4" stroke="#c04060" stroke-width="1.2" opacity="0.45"/>
<line x1="488.9" y1="350.4" x2="490.8" y2="350.4" stroke="#a02070" stroke-width="1.2" opacity="0.45"/>
<line x1="492.8" y1="350.4" x2="495.3" y2="350.4" stroke="#a02070" stroke-width="1.2" opacity="0.45"/>
<line x1="495.7" y1="350.4" x2="498.0" y2="350.4" stroke="#c04060" stroke-width="1.2" opacity="0.45"/>
<line x1="498.7" y1="350.4" x2="501.1" y2="350.4" stroke="#a02070" stroke-width="1.2" opacity="0.45"/>
<line x1="502.0" y1="350.4" x2="503.5" y2="350.4" stroke="#4040e0" stroke-width="1.2" opacity="0.45"/>
<line x1="504.5" y1="350.4" x2="506.8" y2="350.4" stroke="#e03050" stroke-width="1.2" opacity="0.45"/>
<line x1="507.0" y1="350.4" x2="510.8" y2="350.4" stroke="#30a040" stroke-width="1.2" opacity="0.45"/>
<line x1="512.7" y1="350.4" x2="514.5" y2="350.4" stroke="#4040e0" stroke-width="1.2" opacity="0.45"/>
<line x1="515.1" y1="350.4" x2="518.8" y2="350.4" stroke="#30a040" stroke-width="1.2" opacity="0.45"/>
<line x1="519.4" y1="350.4" x2="521.2" y2="350.4" stroke="#a02070" stroke-width="1.2" opacity="0.45"/>
<line x1="522.9" y1="350.4" x2="526.1" y2="350.4" stroke="#4040e0" stroke-width="1.2" opacity="0.45"/>
<line x1="526.9" y1="350.4" x2="529.7" y2="350.4" stroke="#a02070" stroke-width="1.2" opacity="0.45"/>
<line x1="530.9" y1="350.4" x2="534.1" y2="350.4" stroke="#e03050" stroke-width="1.2" opacity="0.45"/>
<line x1="534.7" y1="350.4" x2="538.2" y2="350.4" stroke="#30a040" stroke-width="1.2" opacity="0.45"/>
<line x1="539.0" y1="350.4" x2="540.7" y2="350.4" stroke="#e03050" stroke-width="1.2" opacity="0.45"/>
<line x1="542.0" y1="350.4" x2="545.5" y2="350.4" stroke="#e03050" stroke-width="1.2" opacity="0.45"/>
<line x1="546.7" y1="350.4" x2="548.7" y2="350.4" stroke="#4040e0" stroke-width="1.2" opacity="0.45"/>
<line x1="550.5" y1="350.4" x2="553.1" y2="350.4" stroke="#4040e0" stroke-width="1.2" opacity="0.45"/>
<line x1="555.1" y1="350.4" x2="557.6" y2="350.4" stroke="#4040e0" stroke-width="1.2" opacity="0.45"/>
<line x1="558.9" y1="350.4" x2="560.5" y2="350.4" stroke="#c04060" stroke-width="1.2" opacity="0.45"/>
<line x1="561.0" y1="350.4" x2="562.7" y2="350.4" stroke="#30a040" stroke-width="1.2" opacity="0.45"/>
<line x1="563.3" y1="350.4" x2="565.2" y2="350.4" stroke="#4040e0" stroke-width="1.2" opacity="0.45"/>
<line x1="566.5" y1="350.4" x2="569.3" y2="350.4" stroke="#30a040" stroke-width="1.2" opacity="0.45"/>
<line x1="569.9" y1="350.4" x2="572.6" y2="350.4" stroke="#30a040" stroke-width="1.2" opacity="0.45"/>
<line x1="573.2" y1="350.4" x2="576.7" y2="350.4" stroke="#4040e0" stroke-width="1.2" opacity="0.45"/>
<line x1="576.8" y1="350.4" x2="578.3" y2="350.4" stroke="#a02070" stroke-width="1.2" opacity="0.45"/>
<line x1="579.4" y1="350.4" x2="581.4" y2="350.4" stroke="#a02070" stroke-width="1.2" opacity="0.45"/>
<line x1="581.9" y1="350.4" x2="584.5" y2="350.4" stroke="#c04060" stroke-width="1.2" opacity="0.45"/>
<line x1="586.1" y1="350.4" x2="588.7" y2="350.4" stroke="#a02070" stroke-width="1.2" opacity="0.45"/>
<line x1="589.8" y1="350.4" x2="593.5" y2="350.4" stroke="#a02070" stroke-width="1.2" opacity="0.45"/>
<line x1="594.1" y1="350.4" x2="596.2" y2="350.4" stroke="#30a040" stroke-width="1.2" opacity="0.45"/>
<line x1="596.9" y1="350.4" x2="600.4" y2="350.4" stroke="#c04060" stroke-width="1.2" opacity="0.45"/>
<line x1="601.9" y1="350.4" x2="603.7" y2="350.4" stroke="#4040e0" stroke-width="1.2" opacity="0.45"/>
<line x1="605.7" y1="350.4" x2="609.3" y2="350.4" stroke="#e03050" stroke-width="1.2" opacity="0.45"/>
<line x1="609.4" y1="350.4" x2="612.8" y2="350.4" stroke="#4040e0" stroke-width="1.2" opacity="0.45"/>
<line x1="613.7" y1="350.4" x2="615.3" y2="350.4" stroke="#c04060" stroke-width="1.2" opacity="0.45"/>
<line x1="617.0" y1="350.4" x2="620.7" y2="350.4" stroke="#c04060" stroke-width="1.2" opacity="0.45"/>
<line x1="622.6" y1="350.4" x2="625.6" y2="350.4" stroke="#c04060" stroke-width="1.2" opacity="0.45"/>
<line x1="626.2" y1="350.4" x2="628.8" y2="350.4" stroke="#30a040" stroke-width="1.2" opacity="0.45"/>
<line x1="629.4" y1="350.4" x2="630.9" y2="350.4" stroke="#4040e0" stroke-width="1.2" opacity="0.45"/>
<line x1="632.8" y1="350.4" x2="636.7" y2="350.4" stroke="#a02070" stroke-width="1.2" opacity="0.45"/>
<line x1="637.4" y1="350.4" x2="639.0" y2="350.4" stroke="#4040e0" stroke-width="1.2" opacity="0.45"/>
<line x1="639.4" y1="350.4" x2="641.4" y2="350.4" stroke="#4040e0" stroke-width="1.2" opacity="0.45"/>
<line x1="642.1" y1="350.4" x2="644.8" y2="350.4" stroke="#a02070" stroke-width="1.2" opacity="0.45"/>
<line x1="646.1" y1="350.4" x2="648.2" y2="350.4" stroke="#e03050" stroke-width="1.2" opacity="0.45"/>
<line x1="648.4" y1="350.4" x2="652.0" y2="350.4" stroke="#30a040" stroke-width="1.2" opacity="0.45"/>
<line x1="49.0" y1="785.9" x2="50.6" y2="785.9" stroke="#e03050" stroke-width="1.2" opacity="0.45"/>
<line x1="51.2" y1="785.9" x2="54.3" y2="785.9" stroke="#e03050" stroke-width="1.2" opacity="0.45"/>
<line x1="55.4" y1="785.9" x2="58.3" y2="785.9" stroke="#30a040" stroke-width="1.2" opacity="0.45"/>
<line x1="59.6" y1="785.9" x2="62.9" y2="785.9" stroke="#a02070" stroke-width="1.2" opacity="0.45"/>
<line x1="63.7" y1="785.9" x2="66.0" y2="785.9" stroke="#a02070" stroke-width="1.2" opacity="0.45"/>
<line x1="66.3" y1="785.9" x2="69.6" y2="785.9" stroke="#c04060" stroke-width="1.2" opacity="0.45"/>
<line x1="69.9" y1="785.9" x2="73.4" y2="785.9" stroke="#c04060" stroke-width="1.2" opacity="0.45"/>
<line x1="75.2" y1="785.9" x2="78.3" y2="785.9" stroke="#c04060" stroke-width="1.2" opacity="0.45"/>
<line x1="79.7" y1="785.9" x2="82.5" y2="785.9" stroke="#a02070" stroke-width="1.2" opacity="0.45"/>
<line x1="84.0" y1="785.9" x2="86.9" y2="785.9" stroke="#e03050" stroke-width="1.2" opacity="0.45"/>
<line x1="88.5" y1="785.9" x2="91.5" y2="785.9" stroke="#c04060" stroke-width="1.2" opacity="0.45"/>
<line x1="92.9" y1="785.9" x2="96.1" y2="785.9" stroke="#30a040" stroke-width="1.2" opacity="0.45"/>
<line x1="96.3" y1="785.9" x2="97.9" y2="785.9" stroke="#c04060" stroke-width="1.2" opacity="0.45"/>
<line x1="98.6" y1="785.9" x2="100.3" y2="785.9" stroke="#a02070" stroke-width="1.2" opacity="0.45"/>
<line x1="101.5" y1="785.9" x2="104.5" y2="785.9" stroke="#c04060" stroke-width="1.2" opacity="0.45"/>
<line x1="105.6" y1="785.9" x2="107.7" y2="785.9" stroke="#4040e0" stroke-width="1.2" opacity="0.45"/>
<line x1="107.7" y1="785.9" x2="111.2" y2="785.9" stroke="#c04060" stroke-width="1.2" opacity="0.45"/>
<line x1="113.1" y1="785.9" x2="116.8" y2="785.9" stroke="#e03050" stroke-width="1.2" opacity="0.45"/>
<line x1="118.1" y1="785.9" x2="119.8" y2="785.9" stroke="#c04060" stroke-width="1.2" opacity="0.45"/>
<line x1="120.8" y1="785.9" x2="124.3" y2="785.9" stroke="#4040e0" stroke-width="1.2" opacity="0.45"/>
<line x1="124.7" y1="785.9" x2="128.1" y2="785.9" stroke="#30a040" stroke-width="1.2" opacity="0.45"/>
<line x1="129.6" y1="785.9" x2="133.6" y2="785.9" stroke="#a02070" stroke-width="1.2" opacity="0.45"/>
<line x1="135.2" y1="785.9" x2="136.9" y2="785.9" stroke="#c04060" stroke-width="1.2" opacity="0.45"/>
<line x1="137.5" y1="785.9" x2="139.1" y2="785.9" stroke="#c04060" stroke-width="1.2" opacity="0.45"/>
<line x1="140.4" y1="785.9" x2="142.1" y2="785.9" stroke="#30a040" stroke-width="1.2" opacity="0.45"/>
<line x1="142.8" y1="785.9" x2="145.9" y2="785.9" stroke="#c04060" stroke-width="1.2" opacity="0.45"/>
<line x1="146.5" y1="785.9" x2="149.4" y2="785.9" stroke="#e03050" stroke-width="1.2" opacity="0.45"/>
<line x1="150.4" y1="785.9" x2="153.1" y2="785.9" stroke="#c04060" stroke-width="1.2" opacity="0.45"/>
<line x1="153.3" y1="785.9" x2="155.4" y2="785.9" stroke="#a02070" stroke-width="1.2" opacity="0.45"/>
<line x1="155.9" y1="785.9" x2="158.7" y2="785.9" stroke="#a02070" stroke-width="1.2" opacity="0.45"/>
<line x1="159.7" y1="785.9" x2="163.1" y2="785.9" stroke="#a02070" stroke-width="1.2" opacity="0.45"/>
<line x1="163.5" y1="785.9" x2="167.4" y2="785.9" stroke="#a02070" stroke-width="1.2" opacity="0.45"/>
<line x1="167.5" y1="785.9" x2="170.1" y2="785.9" stroke="#a02070" stroke-width="1.2" opacity="0.45"/>
<line x1="172.0" y1="785.9" x2="174.7" y2="785.9" stroke="#4040e0" stroke-width="1.2" opacity="0.45"/>
<line x1="175.4" y1="785.9" x2="179.2" y2="785.9" stroke="#30a040" stroke-width="1.2" opacity="0.45"/>
<line x1="179.4" y1="785.9" x2="181.1" y2="785.9" stroke="#c04060" stroke-width="1.2" opacity="0.45"/>
<line x1="182.1" y1="785.9" x2="186.0" y2="785.9" stroke="#30a040" stroke-width="1.2" opacity="0.45"/>
<line x1="187.2" y1="785.9" x2="190.3" y2="785.9" stroke="#4040e0" stroke-width="1.2" opacity="0.45"/>
<line x1="192.1" y1="785.9" x2="195.3" y2="785.9" stroke="#30a040" stroke-width="1.2" opacity="0.45"/>
<line x1="196.3" y1="785.9" x2="200.0" y2="785.9" stroke="#a02070" stroke-width="1.2" opacity="0.45"/>
<line x1="200.1" y1="785.9" x2="201.6" y2="785.9" stroke="#a02070" stroke-width="1.2" opacity="0.45"/>
<line x1="203.0" y1="785.9" x2="205.5" y2="785.9" stroke="#c04060" stroke-width="1.2" opacity="0.45"/>
<line x1="205.8" y1="785.9" x2="208.1" y2="785.9" stroke="#4040e0" stroke-width="1.2" opacity="0.45"/>
<line x1="208.4" y1="785.9" x2="210.7" y2="785.9" stroke="#4040e0" stroke-width="1.2" opacity="0.45"/>
<line x1="212.2" y1="785.9" x2="215.8" y2="785.9" stroke="#e03050" stroke-width="1.2" opacity="0.45"/>
<line x1="217.7" y1="785.9" x2="219.6" y2="785.9" stroke="#e03050" stroke-width="1.2" opacity="0.45"/>
<line x1="221.5" y1="785.9" x2="223.7" y2="785.9" stroke="#4040e0" stroke-width="1.2" opacity="0.45"/>
<line x1="223.8" y1="785.9" x2="226.3" y2="785.9" stroke="#a02070" stroke-width="1.2" opacity="0.45"/>
<line x1="226.4" y1="785.9" x2="230.2" y2="785.9" stroke="#4040e0" stroke-width="1.2" opacity="0.45"/>
<line x1="232.0" y1="785.9" x2="234.2" y2="785.9" stroke="#e03050" stroke-width="1.2" opacity="0.45"/>
<line x1="235.8" y1="785.9" x2="238.0" y2="785.9" stroke="#30a040" stroke-width="1.2" opacity="0.45"/>
<line x1="238.5" y1="785.9" x2="240.7" y2="785.9" stroke="#a02070" stroke-width="1.2" opacity="0.45"/>
<line x1="241.3" y1="785.9" x2="244.8" y2="785.9" stroke="#a02070" stroke-width="1.2" opacity="0.45"/>
<line x1="246.5" y1="785.9" x2="250.1" y2="785.9" stroke="#c04060" stroke-width="1.2" opacity="0.45"/>
<line x1="250.9" y1="785.9" x2="254.6" y2="785.9" stroke="#a02070" stroke-width="1.2" opacity="0.45"/>
<line x1="255.7" y1="785.9" x2="259.0" y2="785.9" stroke="#e03050" stroke-width="1.2" opacity="0.45"/>
<line x1="260.8" y1="785.9" x2="263.3" y2="785.9" stroke="#a02070" stroke-width="1.2" opacity="0.45"/>
<line x1="264.9" y1="785.9" x2="268.0" y2="785.9" stroke="#4040e0" stroke-width="1.2" opacity="0.45"/>
<line x1="268.9" y1="785.9" x2="272.7" y2="785.9" stroke="#a02070" stroke-width="1.2" opacity="0.45"/>
<line x1="273.0" y1="785.9" x2="275.7" y2="785.9" stroke="#4040e0" stroke-width="1.2" opacity="0.45"/>
<line x1="276.2" y1="785.9" x2="278.4" y2="785.9" stroke="#c04060" stroke-width="1.2" opacity="0.45"/>
<line x1="280.3" y1="785.9" x2="282.5" y2="785.9" stroke="#c04060" stroke-width="1.2" opacity="0.45"/>
<line x1="282.9" y1="785.9" x2="285.6" y2="785.9" stroke="#c04060" stroke-width="1.2" opacity="0.45"/>
<line x1="286.4" y1="785.9" x2="288.3" y2="785.9" stroke="#30a040" stroke-width="1.2" opacity="0.45"/>
<line x1="288.5" y1="785.9" x2="291.3" y2="785.9" stroke="#a02070" stroke-width="1.2" opacity="0.45"/>
<line x1="292.4" y1="785.9" x2="295.0" y2="785.9" stroke="#4040e0" stroke-width="1.2" opacity="0.45"/>
<line x1="297.0" y1="785.9" x2="299.6" y2="785.9" stroke="#30a040" stroke-width="1.2" opacity="0.45"/>
<line x1="300.7" y1="785.9" x2="302.8" y2="785.9" stroke="#30a040" stroke-width="1.2" opacity="0.45"/>
<line x1="303.5" y1="785.9" x2="305.2" y2="785.9" stroke="#30a040" stroke-width="1.2" opacity="0.45"/>
<line x1="306.0" y1="785.9" x2="309.5" y2="785.9" stroke="#30a040" stroke-width="1.2" opacity="0.45"/>
<line x1="311.3" y1="785.9" x2="314.6" y2="785.9" stroke="#a02070" stroke-width="1.2" opacity="0.45"/>
<line x1="315.4" y1="785.9" x2="318.8" y2="785.9" stroke="#30a040" stroke-width="1.2" opacity="0.45"/>
<line x1="319.5" y1="785.9" x2="321.9" y2="785.9" stroke="#e03050" stroke-width="1.2" opacity="0.45"/>
<line x1="322.9" y1="785.9" x2="325.8" y2="785.9" stroke="#4040e0" stroke-width="1.2" opacity="0.45"/>
<line x1="326.0" y1="785.9" x2="328.8" y2="785.9" stroke="#c04060" stroke-width="1.2" opacity="0.45"/>
<line x1="330.4" y1="785.9" x2="334.0" y2="785.9" stroke="#e03050" stroke-width="1.2" opacity="0.45"/>
<line x1="334.5" y1="785.9" x2="336.7" y2="785.9" stroke="#a02070" stroke-width="1.2" opacity="0.45"/>
<line x1="338.0" y1="785.9" x2="340.5" y2="785.9" stroke="#4040e0" stroke-width="1.2" opacity="0.45"/>
<line x1="342.2" y1="785.9" x2="345.9" y2="785.9" stroke="#e03050" stroke-width="1.2" opacity="0.45"/>
<line x1="346.2" y1="785.9" x2="348.7" y2="785.9" stroke="#a02070" stroke-width="1.2" opacity="0.45"/>
<line x1="350.7" y1="785.9" x2="353.4" y2="785.9" stroke="#e03050" stroke-width="1.2" opacity="0.45"/>
<line x1="354.2" y1="785.9" x2="358.0" y2="785.9" stroke="#a02070" stroke-width="1.2" opacity="0.45"/>
<line x1="359.7" y1="785.9" x2="363.6" y2="785.9" stroke="#30a040" stroke-width="1.2" opacity="0.45"/>
<line x1="365.2" y1="785.9" x2="367.3" y2="785.9" stroke="#30a040" stroke-width="1.2" opacity="0.45"/>
<line x1="368.3" y1="785.9" x2="371.5" y2="785.9" stroke="#c04060" stroke-width="1.2" opacity="0.45"/>
<line x1="372.9" y1="785.9" x2="376.5" y2="785.9" stroke="#a02070" stroke-width="1.2" opacity="0.45"/>
<line x1="376.7" y1="785.9" x2="380.1" y2="785.9" stroke="#e03050" stroke-width="1.2" opacity="0.45"/>
<line x1="381.7" y1="785.9" x2="383.8" y2="785.9" stroke="#e03050" stroke-width="1.2" opacity="0.45"/>
<line x1="385.1" y1="785.9" x2="387.3" y2="785.9" stroke="#30a040" stroke-width="1.2" opacity="0.45"/>
<line x1="388.6" y1="785.9" x2="391.4" y2="785.9" stroke="#a02070" stroke-width="1.2" opacity="0.45"/>
<line x1="392.8" y1="785.9" x2="394.6" y2="785.9" stroke="#e03050" stroke-width="1.2" opacity="0.45"/>
<line x1="395.2" y1="785.9" x2="399.0" y2="785.9" stroke="#30a040" stroke-width="1.2" opacity="0.45"/>
<line x1="399.8" y1="785.9" x2="401.9" y2="785.9" stroke="#a02070" stroke-width="1.2" opacity="0.45"/>
<line x1="401.9" y1="785.9" x2="404.7" y2="785.9" stroke="#a02070" stroke-width="1.2" opacity="0.45"/>
<line x1="405.3" y1="785.9" x2="407.6" y2="785.9" stroke="#30a040" stroke-width="1.2" opacity="0.45"/>
<line x1="408.5" y1="785.9" x2="410.6" y2="785.9" stroke="#30a040" stroke-width="1.2" opacity="0.45"/>
<line x1="410.7" y1="785.9" x2="413.2" y2="785.9" stroke="#c04060" stroke-width="1.2" opacity="0.45"/>
<line x1="413.8" y1="785.9" x2="415.4" y2="785.9" stroke="#a02070" stroke-width="1.2" opacity="0.45"/>
<line x1="417.1" y1="785.9" x2="420.3" y2="785.9" stroke="#e03050" stroke-width="1.2" opacity="0.45"/>
<line x1="420.8" y1="785.9" x2="423.9" y2="785.9" stroke="#4040e0" stroke-width="1.2" opacity="0.45"/>
<line x1="424.4" y1="785.9" x2="426.0" y2="785.9" stroke="#4040e0" stroke-width="1.2" opacity="0.45"/>
<line x1="427.4" y1="785.9" x2="429.8" y2="785.9" stroke="#a02070" stroke-width="1.2" opacity="0.45"/>
<line x1="430.2" y1="785.9" x2="433.7" y2="785.9" stroke="#c04060" stroke-width="1.2" opacity="0.45"/>
<line x1="435.4" y1="785.9" x2="437.1" y2="785.9" stroke="#a02070" stroke-width="1.2" opacity="0.45"/>
<line x1="439.0" y1="785.9" x2="441.3" y2="785.9" stroke="#30a040" stroke-width="1.2" opacity="0.45"/>
<line x1="441.8" y1="785.9" x2="443.8" y2="785.9" stroke="#4040e0" stroke-width="1.2" opacity="0.45"/>
<line x1="444.0" y1="785.9" x2="447.1" y2="785.9" stroke="#a02070" stroke-width="1.2" opacity="0.45"/>
<line x1="447.5" y1="785.9" x2="449.5" y2="785.9" stroke="#a02070" stroke-width="1.2" opacity="0.45"/>
<line x1="451.3" y1="785.9" x2="453.0" y2="785.9" stroke="#a02070" stroke-width="1.2" opacity="0.45"/>
<line x1="453.3" y1="785.9" x2="455.8" y2="785.9" stroke="#30a040" stroke-width="1.2" opacity="0.45"/>
<line x1="455.8" y1="785.9" x2="458.8" y2="785.9" stroke="#a02070" stroke-width="1.2" opacity="0.45"/>
<line x1="458.9" y1="785.9" x2="460.5" y2="785.9" stroke="#a02070" stroke-width="1.2" opacity="0.45"/>
<line x1="461.4" y1="785.9" x2="464.7" y2="785.9" stroke="#4040e0" stroke-width="1.2" opacity="0.45"/>
<line x1="466.2" y1="785.9" x2="470.2" y2="785.9" stroke="#30a040" stroke-width="1.2" opacity="0.45"/>
<line x1="470.8" y1="785.9" x2="472.8" y2="785.9" stroke="#a02070" stroke-width="1.2" opacity="0.45"/>
<line x1="474.3" y1="785.9" x2="475.9" y2="785.9" stroke="#c04060" stroke-width="1.2" opacity="0.45"/>
<line x1="477.3" y1="785.9" x2="480.9" y2="785.9" stroke="#4040e0" stroke-width="1.2" opacity="0.45"/>
<line x1="481.8" y1="785.9" x2="483.6" y2="785.9" stroke="#e03050" stroke-width="1.2" opacity="0.45"/>
<line x1="484.1" y1="785.9" x2="486.5" y2="785.9" stroke="#e03050" stroke-width="1.2" opacity="0.45"/>
<line x1="487.6" y1="785.9" x2="491.0" y2="785.9" stroke="#a02070" stroke-width="1.2" opacity="0.45"/>
<line x1="491.8" y1="785.9" x2="495.3" y2="785.9" stroke="#a02070" stroke-width="1.2" opacity="0.45"/>
<line x1="495.5" y1="785.9" x2="498.7" y2="785.9" stroke="#30a040" stroke-width="1.2" opacity="0.45"/>
<line x1="499.5" y1="785.9" x2="503.3" y2="785.9" stroke="#30a040" stroke-width="1.2" opacity="0.45"/>
<line x1="503.9" y1="785.9" x2="507.3" y2="785.9" stroke="#a02070" stroke-width="1.2" opacity="0.45"/>
<line x1="507.3" y1="785.9" x2="509.9" y2="785.9" stroke="#c04060" stroke-width="1.2" opacity="0.45"/>
<line x1="511.4" y1="785.9" x2="513.0" y2="785.9" stroke="#e03050" stroke-width="1.2" opacity="0.45"/>
<line x1="513.9" y1="785.9" x2="517.4" y2="785.9" stroke="#e03050" stroke-width="1.2" opacity="0.45"/>
<line x1="518.0" y1="785.9" x2="521.3" y2="785.9" stroke="#a02070" stroke-width="1.2" opacity="0.45"/>
<line x1="522.0" y1="785.9" x2="524.2" y2="785.9" stroke="#a02070" stroke-width="1.2" opacity="0.45"/>
<line x1="524.3" y1="785.9" x2="527.6" y2="785.9" stroke="#c04060" stroke-width="1.2" opacity="0.45"/>
<line x1="528.3" y1="785.9" x2="530.5" y2="785.9" stroke="#e03050" stroke-width="1.2" opacity="0.45"/>
<line x1="531.9" y1="785.9" x2="534.9" y2="785.9" stroke="#c04060" stroke-width="1.2" opacity="0.45"/>
<line x1="536.8" y1="785.9" x2="538.4" y2="785.9" stroke="#30a040" stroke-width="1.2" opacity="0.45"/>
<line x1="538.7" y1="785.9" x2="542.0" y2="785.9" stroke="#a02070" stroke-width="1.2" opacity="0.45"/>
<line x1="543.9" y1="785.9" x2="546.3" y2="785.9" stroke="#4040e0" stroke-width="1.2" opacity="0.45"/>
<line x1="548.2" y1="785.9" x2="551.7" y2="785.9" stroke="#30a040" stroke-width="1.2" opacity="0.45"/>
<line x1="553.5" y1="785.9" x2="555.5" y2="785.9" stroke="#c04060" stroke-width="1.2" opacity="0.45"/>
<line x1="556.1" y1="785.9" x2="559.3" y2="785.9" stroke="#30a040" stroke-width="1.2" opacity="0.45"/>
<line x1="560.6" y1="785.9" x2="562.9" y2="785.9" stroke="#4040e0" stroke-width="1.2" opacity="0.45"/>
<line x1="563.8" y1="785.9" x2="567.3" y2="785.9" stroke="#a02070" stroke-width="1.2" opacity="0.45"/>
<line x1="567.4" y1="785.9" x2="569.4" y2="785.9" stroke="#30a040" stroke-width="1.2" opacity="0.45"/>
<line x1="569.9" y1="785.9" x2="571.6" y2="785.9" stroke="#e03050" stroke-width="1.2" opacity="0.45"/>
<line x1="572.5" y1="785.9" x2="575.4" y2="785.9" stroke="#30a040" stroke-width="1.2" opacity="0.45"/>
<line x1="577.3" y1="785.9" x2="581.1" y2="785.9" stroke="#e03050" stroke-width="1.2" opacity="0.45"/>
<line x1="581.6" y1="785.9" x2="583.3" y2="785.9" stroke="#e03050" stroke-width="1.2" opacity="0.45"/>
<line x1="584.1" y1="785.9" x2="588.1" y2="785.9" stroke="#a02070" stroke-width="1.2" opacity="0.45"/>
<line x1="588.5" y1="785.9" x2="590.3" y2="785.9" stroke="#a02070" stroke-width="1.2" opacity="0.45"/>
<line x1="591.5" y1="785.9" x2="594.7" y2="785.9" stroke="#c04060" stroke-width="1.2" opacity="0.45"/>
<line x1="595.8" y1="785.9" x2="599.2" y2="785.9" stroke="#e03050" stroke-width="1.2" opacity="0.45"/>
<line x1="600.8" y1="785.9" x2="603.0" y2="785.9" stroke="#4040e0" stroke-width="1.2" opacity="0.45"/>
<line x1="604.2" y1="785.9" x2="606.6" y2="785.9" stroke="#c04060" stroke-width="1.2" opacity="0.45"/>
<line x1="607.1" y1="785.9" x2="609.7" y2="785.9" stroke="#30a040" stroke-width="1.2" opacity="0.45"/>
<line x1="610.2" y1="785.9" x2="612.1" y2="785.9" stroke="#a02070" stroke-width="1.2" opacity="0.45"/>
<line x1="612.5" y1="785.9" x2="614.1" y2="785.9" stroke="#4040e0" stroke-width="1.2" opacity="0.45"/>
<line x1="616.1" y1="785.9" x2="618.9" y2="785.9" stroke="#30a040" stroke-width="1.2" opacity="0.45"/>
<line x1="620.2" y1="785.9" x2="621.9" y2="785.9" stroke="#a02070" stroke-width="1.2" opacity="0.45"/>
<line x1="623.9" y1="785.9" x2="625.7" y2="785.9" stroke="#a02070" stroke-width="1.2" opacity="0.45"/>
<line x1="627.4" y1="785.9" x2="629.5" y2="785.9" stroke="#a02070" stroke-width="1.2" opacity="0.45"/>
<line x1="631.3" y1="785.9" x2="632.9" y2="785.9" stroke="#4040e0" stroke-width="1.2" opacity="0.45"/>
<line x1="633.4" y1="785.9" x2="635.0" y2="785.9" stroke="#a02070" stroke-width="1.2" opacity="0.45"/>
<line x1="637.0" y1="785.9" x2="639.9" y2="785.9" stroke="#e03050" stroke-width="1.2" opacity="0.45"/>
<line x1="640.7" y1="785.9" x2="644.3" y2="785.9" stroke="#a02070" stroke-width="1.2" opacity="0.45"/>
<line x1="645.5" y1="785.9" x2="649.0" y2="785.9" stroke="#c04060" stroke-width="1.2" opacity="0.45"/>
<line x1="650.9" y1="785.9" x2="652.6" y2="785.9" stroke="#a02070" stroke-width="1.2" opacity="0.45"/>
<polyline fill="none" stroke="#000" stroke-width="2.2" points="62.0,161.99 71.8,161.77 81.5,161.53 91.3,161.29 101.1,161.04 110.9,160.78 120.6,160.51 130.4,160.24 140.2,159.95 150.0,159.65 159.7,159.35 169.5,159.03 179.3,158.70 189.1,158.36 198.8,158.01 208.6,157.65 218.4,157.27 228.2,156.88 237.9,156.48 247.7,156.07 257.5,155.64 267.3,155.19 277.0,154.74 286.8,154.26 296.6,153.77 306.4,153.26 316.1,152.74 325.9,152.19 335.7,151.63 345.5,151.05 355.2,150.45 365.0,149.83 374.8,149.18 384.6,148.52 394.3,147.83 404.1,147.12 413.9,146.38 423.7,145.62 433.4,144.84 443.2,144.02 453.0,143.18 462.8,142.31 472.5,141.41 482.3,140.48 492.1,139.52 501.9,138.52 511.6,137.49 521.4,136.43 531.2,135.33 541.0,134.19 550.7,133.01 560.5,131.79 570.3,130.53 580.1,129.23 589.8,127.88 599.6,126.49 609.4,125.04 619.2,123.55 628.9,122.01 638.7,120.42"/>
<line x1="65.6" y1="472.7" x2="621.7" y2="486.3" stroke="#000" stroke-width="2"/>
<ellipse cx="72.5" cy="56" rx="5.7" ry="5.1" fill="#ff0000"/>
<ellipse cx="94" cy="68" rx="5.7" ry="5.1" fill="#6a2cb0"/>
<ellipse cx="62.5" cy="110" rx="5.7" ry="5.1" fill="#000000"/>
<ellipse cx="116" cy="168" rx="5.7" ry="5.1" fill="#0000ff"/>
<ellipse cx="168.5" cy="147.5" rx="5.7" ry="5.1" fill="#000000"/>
<ellipse cx="187.3" cy="73.7" rx="5.7" ry="5.1" fill="#ff0000"/>
<ellipse cx="181.6" cy="161" rx="5.7" ry="5.1" fill="#12b335"/>
<ellipse cx="239.4" cy="130" rx="5.7" ry="5.1" fill="#0000ff"/>
<ellipse cx="285.3" cy="128" rx="5.7" ry="5.1" fill="#12b335"/>
<ellipse cx="237" cy="168" rx="5.7" ry="5.1" fill="#6a2cb0"/>
<ellipse cx="258.8" cy="168" rx="5.7" ry="5.1" fill="#000000"/>
<ellipse cx="316.3" cy="168" rx="5.7" ry="5.1" fill="#ff0000"/>
<ellipse cx="356.7" cy="134" rx="5.7" ry="5.1" fill="#6a2cb0"/>
<ellipse cx="370.9" cy="104" rx="5.7" ry="5.1" fill="#0000ff"/>
<ellipse cx="387.5" cy="144" rx="5.7" ry="5.1" fill="#000000"/>
<ellipse cx="438.4" cy="95.5" rx="5.7" ry="5.1" fill="#ff0000"/>
<ellipse cx="473" cy="74.4" rx="5.7" ry="5.1" fill="#12b335"/>
<ellipse cx="483.8" cy="114" rx="5.7" ry="5.1" fill="#0000ff"/>
<ellipse cx="493.5" cy="12" rx="5.7" ry="5.1" fill="#6a2cb0"/>
<ellipse cx="585.4" cy="138.6" rx="5.7" ry="5.1" fill="#0000ff"/>
<ellipse cx="639.3" cy="113" rx="5.7" ry="5.1" fill="#ff0000"/>
<ellipse cx="75.5" cy="422.3" rx="5.7" ry="5.1" fill="#ff0000"/>
<ellipse cx="96.6" cy="426" rx="5.7" ry="5.1" fill="#6a2cb0"/>
<ellipse cx="117.2" cy="448.8" rx="5.7" ry="5.1" fill="#0000ff"/>
<ellipse cx="179.7" cy="437.7" rx="5.7" ry="5.1" fill="#12b335"/>
<ellipse cx="186.4" cy="443.4" rx="5.7" ry="5.1" fill="#ff0000"/>
<ellipse cx="65.8" cy="512.6" rx="5.7" ry="5.1" fill="#000000"/>
<ellipse cx="168.3" cy="536" rx="5.7" ry="5.1" fill="#000000"/>
<ellipse cx="234.2" cy="468.7" rx="5.7" ry="5.1" fill="#6a2cb0"/>
<ellipse cx="236" cy="485.6" rx="5.7" ry="5.1" fill="#0000ff"/>
<ellipse cx="255.1" cy="510.9" rx="5.7" ry="5.1" fill="#000000"/>
<ellipse cx="280.1" cy="448.4" rx="5.7" ry="5.1" fill="#12b335"/>
<ellipse cx="311" cy="449.1" rx="5.7" ry="5.1" fill="#ff0000"/>
<ellipse cx="349.6" cy="451" rx="5.7" ry="5.1" fill="#6a2cb0"/>
<ellipse cx="362.5" cy="490.5" rx="5.7" ry="5.1" fill="#0000ff"/>
<ellipse cx="379.1" cy="517.3" rx="5.7" ry="5.1" fill="#000000"/>
<ellipse cx="428.2" cy="475.6" rx="5.7" ry="5.1" fill="#ff0000"/>
<ellipse cx="461.7" cy="449.1" rx="5.7" ry="5.1" fill="#12b335"/>
<ellipse cx="472.9" cy="467" rx="5.7" ry="5.1" fill="#0000ff"/>
<ellipse cx="481.6" cy="481.1" rx="5.7" ry="5.1" fill="#6a2cb0"/>
<ellipse cx="570.1" cy="496.2" rx="5.7" ry="5.1" fill="#0000ff"/>
<ellipse cx="622.2" cy="491.8" rx="5.7" ry="5.1" fill="#ff0000"/>
<ellipse cx="72.5" cy="56" rx="8.5" ry="7.85" fill="none" stroke="#000" stroke-width="1.65"/>
<ellipse cx="94" cy="68" rx="8.5" ry="7.85" fill="none" stroke="#000" stroke-width="1.65"/>
<ellipse cx="62.5" cy="110" rx="8.5" ry="7.85" fill="none" stroke="#000" stroke-width="1.65"/>
<ellipse cx="116" cy="168" rx="8.5" ry="7.85" fill="none" stroke="#000" stroke-width="1.65"/>
<ellipse cx="168.5" cy="147.5" rx="8.5" ry="7.85" fill="none" stroke="#000" stroke-width="1.65"/>
<ellipse cx="187.3" cy="73.7" rx="8.5" ry="7.85" fill="none" stroke="#000" stroke-width="1.65"/>
<ellipse cx="181.6" cy="161" rx="8.5" ry="7.85" fill="none" stroke="#000" stroke-width="1.65"/>
<ellipse cx="239.4" cy="130" rx="8.5" ry="7.85" fill="none" stroke="#000" stroke-width="1.65"/>
<ellipse cx="285.3" cy="128" rx="8.5" ry="7.85" fill="none" stroke="#000" stroke-width="1.65"/>
<ellipse cx="237" cy="168" rx="8.5" ry="7.85" fill="none" stroke="#000" stroke-width="1.65"/>
<ellipse cx="258.8" cy="168" rx="8.5" ry="7.85" fill="none" stroke="#000" stroke-width="1.65"/>
<ellipse cx="316.3" cy="168" rx="8.5" ry="7.85" fill="none" stroke="#000" stroke-width="1.65"/>
<ellipse cx="356.7" cy="134" rx="8.5" ry="7.85" fill="none" stroke="#000" stroke-width="1.65"/>
<ellipse cx="370.9" cy="104" rx="8.5" ry="7.85" fill="none" stroke="#000" stroke-width="1.65"/>
<ellipse cx="387.5" cy="144" rx="8.5" ry="7.85" fill="none" stroke="#000" stroke-width="1.65"/>
<ellipse cx="438.4" cy="95.5" rx="8.5" ry="7.85" fill="none" stroke="#000" stroke-width="1.65"/>
<ellipse cx="473" cy="74.4" rx="8.5" ry="7.85" fill="none" stroke="#000" stroke-width="1.65"/>
<ellipse cx="483.8" cy="114" rx="8.5" ry="7.85" fill="none" stroke="#000" stroke-width="1.65"/>
<ellipse cx="493.5" cy="12" rx="8.5" ry="7.85" fill="none" stroke="#000" stroke-width="1.65"/>
<ellipse cx="585.4" cy="138.6" rx="8.5" ry="7.85" fill="none" stroke="#000" stroke-width="1.65"/>
<ellipse cx="639.3" cy="113" rx="8.5" ry="7.85" fill="none" stroke="#000" stroke-width="1.65"/>
<ellipse cx="75.5" cy="422.3" rx="8.5" ry="7.85" fill="none" stroke="#000" stroke-width="1.65"/>
<ellipse cx="96.6" cy="426" rx="8.5" ry="7.85" fill="none" stroke="#000" stroke-width="1.65"/>
<ellipse cx="117.2" cy="448.8" rx="8.5" ry="7.85" fill="none" stroke="#000" stroke-width="1.65"/>
<ellipse cx="179.7" cy="437.7" rx="8.5" ry="7.85" fill="none" stroke="#000" stroke-width="1.65"/>
<ellipse cx="186.4" cy="443.4" rx="8.5" ry="7.85" fill="none" stroke="#000" stroke-width="1.65"/>
<ellipse cx="65.8" cy="512.6" rx="8.5" ry="7.85" fill="none" stroke="#000" stroke-width="1.65"/>
<ellipse cx="168.3" cy="536" rx="8.5" ry="7.85" fill="none" stroke="#000" stroke-width="1.65"/>
<ellipse cx="234.2" cy="468.7" rx="8.5" ry="7.85" fill="none" stroke="#000" stroke-width="1.65"/>
<ellipse cx="236" cy="485.6" rx="8.5" ry="7.85" fill="none" stroke="#000" stroke-width="1.65"/>
<ellipse cx="255.1" cy="510.9" rx="8.5" ry="7.85" fill="none" stroke="#000" stroke-width="1.65"/>
<ellipse cx="280.1" cy="448.4" rx="8.5" ry="7.85" fill="none" stroke="#000" stroke-width="1.65"/>
<ellipse cx="311" cy="449.1" rx="8.5" ry="7.85" fill="none" stroke="#000" stroke-width="1.65"/>
<ellipse cx="349.6" cy="451" rx="8.5" ry="7.85" fill="none" stroke="#000" stroke-width="1.65"/>
<ellipse cx="362.5" cy="490.5" rx="8.5" ry="7.85" fill="none" stroke="#000" stroke-width="1.65"/>
<ellipse cx="379.1" cy="517.3" rx="8.5" ry="7.85" fill="none" stroke="#000" stroke-width="1.65"/>
<ellipse cx="428.2" cy="475.6" rx="8.5" ry="7.85" fill="none" stroke="#000" stroke-width="1.65"/>
<ellipse cx="461.7" cy="449.1" rx="8.5" ry="7.85" fill="none" stroke="#000" stroke-width="1.65"/>
<ellipse cx="472.9" cy="467" rx="8.5" ry="7.85" fill="none" stroke="#000" stroke-width="1.65"/>
<ellipse cx="481.6" cy="481.1" rx="8.5" ry="7.85" fill="none" stroke="#000" stroke-width="1.65"/>
<ellipse cx="570.1" cy="496.2" rx="8.5" ry="7.85" fill="none" stroke="#000" stroke-width="1.65"/>
<ellipse cx="622.2" cy="491.8" rx="8.5" ry="7.85" fill="none" stroke="#000" stroke-width="1.65"/>
<text x="229.3" y="38" font-size="46.5" font-weight="bold" font-family="Liberation Sans, sans-serif" >H</text>
<text x="262.3" y="38" font-size="27" font-weight="bold" font-family="Liberation Sans, sans-serif" font-style="italic">l</text>
<text x="276.5" y="38" font-size="46.5" font-weight="bold" font-family="Liberation Sans, sans-serif" >=</text>
<text x="316.5" y="38" font-size="46.5" font-weight="bold" font-family="Liberation Sans, sans-serif" >α</text>
<text x="346.5" y="38" font-size="46.5" font-weight="bold" font-family="Liberation Sans, sans-serif" >e</text>
<text x="371.5" y="22.5" font-size="31" font-weight="bold" font-family="Liberation Sans, sans-serif" >β</text>
<text x="390" y="25" font-size="31" font-weight="bold" font-family="Liberation Sans, sans-serif" font-style="italic">s</text>
<text x="407" y="29.2" font-size="21" font-weight="bold" font-family="Liberation Sans, sans-serif" font-style="italic">l</text>
<text x="659.8" y="31" font-size="46" font-weight="bold" font-family="Liberation Sans, sans-serif" >a</text>
<text x="371" y="196.5" font-size="31" font-weight="bold" font-family="Liberation Sans, sans-serif" >β-Value= 0.0073</text>
<text x="353.5" y="606" font-size="31" font-weight="bold" font-family="Liberation Sans, sans-serif" >β-Value= -0.0006</text>
<text transform="translate(23.2,628.8) rotate(-90)" font-size="30.5" font-weight="bold" font-family="Liberation Sans, sans-serif" textLength="486" lengthAdjust="spacingAndGlyphs">Relative Fluorescence Unit [RFU]</text>
<line x1="137.8" y1="811.1" x2="550" y2="811.1" stroke="#000" stroke-width="7.8" stroke-linecap="round"/>
<polygon points="545,800 568.5,810.9 545,822" fill="#000"/>
<text x="217" y="841.3" font-size="31" font-weight="bold" font-family="Liberation Sans, sans-serif" >Mol. Weight (b.p.)</text>
<line x1="129.2" y1="882.8" x2="129.2" y2="1211" stroke="#000" stroke-width="2.3"/>
<line x1="128" y1="1210.8" x2="674.5" y2="1210.8" stroke="#000" stroke-width="2.8"/><line x1="129.2" y1="1210" x2="129.2" y2="1214" stroke="#000" stroke-width="1"/>
<text transform="translate(122.6,902.6) scale(0.925,1)" font-size="30" font-weight="bold" font-family="Liberation Sans, sans-serif" text-anchor="end">0.010</text>
<text transform="translate(122.6,936.5) scale(0.925,1)" font-size="30" font-weight="bold" font-family="Liberation Sans, sans-serif" text-anchor="end">0.005</text>
<text transform="translate(122.6,976.4) scale(0.925,1)" font-size="30" font-weight="bold" font-family="Liberation Sans, sans-serif" text-anchor="end">0.000</text>
<text transform="translate(122.6,1015.2) scale(0.925,1)" font-size="30" font-weight="bold" font-family="Liberation Sans, sans-serif" text-anchor="end">-0.005</text>
<text transform="translate(122.6,1054.6) scale(0.925,1)" font-size="30" font-weight="bold" font-family="Liberation Sans, sans-serif" text-anchor="end">-0.010</text>
<text transform="translate(122.6,1094.7) scale(0.925,1)" font-size="30" font-weight="bold" font-family="Liberation Sans, sans-serif" text-anchor="end">-0.015</text>
<text transform="translate(122.6,1133.8) scale(0.925,1)" font-size="30" font-weight="bold" font-family="Liberation Sans, sans-serif" text-anchor="end">-0.020</text>
<text transform="translate(122.6,1172.9) scale(0.925,1)" font-size="30" font-weight="bold" font-family="Liberation Sans, sans-serif" text-anchor="end">-0.025</text>
<text transform="translate(122.6,1209.3) scale(0.925,1)" font-size="30" font-weight="bold" font-family="Liberation Sans, sans-serif" text-anchor="end">-0.030</text>
<text transform="translate(25.8,1081.5) rotate(-90)" font-size="31.5" font-weight="bold" font-family="Liberation Sans, sans-serif">β-Value</text>
<text x="198" y="1238" font-size="28" font-weight="bold" font-family="Liberation Sans, sans-serif" text-anchor="middle">DP</text>
<text x="335.3" y="1238" font-size="28" font-weight="bold" font-family="Liberation Sans, sans-serif" text-anchor="middle">FG</text>
<text x="471.7" y="1238" font-size="28" font-weight="bold" font-family="Liberation Sans, sans-serif" text-anchor="middle">LP</text>
<text x="608.2" y="1238" font-size="28" font-weight="bold" font-family="Liberation Sans, sans-serif" text-anchor="middle">PP</text>
<text x="393.5" y="1271.5" font-size="31" font-weight="bold" font-family="Liberation Sans, sans-serif" text-anchor="middle">Extraction Method</text>
<text x="348.5" y="925" font-size="44" font-weight="bold" font-family="Liberation Sans, sans-serif" >P</text>
<polygon fill="#000" points="402.3,896.1 379.3,906.3 379.3,911.1 402.3,920.8 402.3,915.2 386.8,908.7 402.3,901.9"/>
<rect x="380.2" y="922.4" width="22.5" height="6.4" fill="#000"/>
<text x="418.7" y="925" font-size="44" font-weight="bold" font-family="Liberation Sans, sans-serif" >10</text>
<text x="466" y="893.5" font-size="29.5" font-weight="bold" font-family="Liberation Sans, sans-serif" >-4</text>
<text x="661" y="894.3" font-size="44" font-weight="bold" font-family="Liberation Sans, sans-serif" >b</text>
<line x1="161.6" y1="1025.7" x2="233.6" y2="1025.7" stroke="#000" stroke-width="3.6"/>
<line x1="298.7" y1="998.6" x2="370.6" y2="998.6" stroke="#000" stroke-width="3.6"/>
<line x1="435.3" y1="1004.6" x2="507.5" y2="1004.6" stroke="#000" stroke-width="3.6"/>
<line x1="572.5" y1="982.2" x2="644.4" y2="982.2" stroke="#000" stroke-width="3.6"/>
<g fill="#5a06b4" stroke="#3a0a70" stroke-width="0.8">
<circle cx="210.5" cy="1052.4" r="5.45"/>
<circle cx="203.1" cy="1019.6" r="5.45"/>
<circle cx="193.8" cy="1051.5" r="5.45"/>
<circle cx="203.5" cy="1110.3" r="5.45"/>
<circle cx="207.9" cy="1065.6" r="5.45"/>
<circle cx="189.2" cy="1042.5" r="5.45"/>
<circle cx="205.3" cy="1071.8" r="5.45"/>
<circle cx="197.7" cy="1110.2" r="5.45"/>
<circle cx="186.7" cy="1024.9" r="5.45"/>
<circle cx="195.2" cy="966.4" r="5.45"/>
<circle cx="188.9" cy="1114.4" r="5.45"/>
<circle cx="209.3" cy="976.5" r="5.45"/>
<circle cx="207.5" cy="966.2" r="5.45"/>
<circle cx="194.2" cy="1003.4" r="5.45"/>
<circle cx="199.2" cy="1041.3" r="5.45"/>
<circle cx="207.4" cy="1060.3" r="5.45"/>
<circle cx="209.6" cy="1003.6" r="5.45"/>
<circle cx="193.8" cy="992.7" r="5.45"/>
<circle cx="201.6" cy="968.6" r="5.45"/>
<circle cx="200.4" cy="990.2" r="5.45"/>
<circle cx="204.4" cy="1032.5" r="5.45"/>
<circle cx="207.2" cy="999.6" r="5.45"/>
<circle cx="185.8" cy="975.6" r="5.45"/>
<circle cx="196.7" cy="1021.8" r="5.45"/>
<circle cx="205.5" cy="1046.4" r="5.45"/>
<circle cx="199.2" cy="1109.4" r="5.45"/>
<circle cx="188.2" cy="1076.2" r="5.45"/>
<circle cx="188.9" cy="1031.5" r="5.45"/>
<circle cx="188.6" cy="1049.8" r="5.45"/>
<circle cx="193.7" cy="971.4" r="5.45"/>
<circle cx="193.7" cy="978.7" r="5.45"/>
<circle cx="198.2" cy="996.2" r="5.45"/>
<circle cx="184.7" cy="1068.3" r="5.45"/>
<circle cx="206.2" cy="971.5" r="5.45"/>
<circle cx="192.2" cy="1166.0" r="5.45"/>
<circle cx="194.3" cy="1040.5" r="5.45"/>
<circle cx="199.1" cy="1048.3" r="5.45"/>
<circle cx="186.9" cy="1061.3" r="5.45"/>
<circle cx="200.4" cy="976.1" r="5.45"/>
<circle cx="187.8" cy="1095.4" r="5.45"/>
<circle cx="207.0" cy="960.4" r="5.45"/>
<circle cx="192.1" cy="1027.8" r="5.45"/>
<circle cx="200.9" cy="1092.8" r="5.45"/>
<circle cx="194.4" cy="1045.6" r="5.45"/>
<circle cx="194.8" cy="1098.9" r="5.45"/>
<circle cx="195.3" cy="1059.4" r="5.45"/>
<circle cx="187.7" cy="982.8" r="5.45"/>
<circle cx="202.2" cy="1057.5" r="5.45"/>
<circle cx="201.4" cy="1013.7" r="5.45"/>
<circle cx="208.0" cy="1172.6" r="5.45"/>
<circle cx="185.1" cy="1091.9" r="5.45"/>
<circle cx="207.8" cy="1022.4" r="5.45"/>
<circle cx="190.4" cy="950.1" r="5.45"/>
<circle cx="191.3" cy="1100.7" r="5.45"/>
<circle cx="189.1" cy="1054.9" r="5.45"/>
<circle cx="202.5" cy="1007.4" r="5.45"/>
<circle cx="197.7" cy="1034.4" r="5.45"/>
<circle cx="200.0" cy="1089.3" r="5.45"/>
<circle cx="187.8" cy="989.5" r="5.45"/>
<circle cx="191.6" cy="1034.8" r="5.45"/>
<circle cx="188.6" cy="1112.0" r="5.45"/>
<circle cx="198.3" cy="982.2" r="5.45"/>
<circle cx="190.5" cy="1019.9" r="5.45"/>
<circle cx="202.9" cy="1024.6" r="5.45"/>
<circle cx="207.1" cy="1008.2" r="5.45"/>
<circle cx="202.2" cy="1077.0" r="5.45"/>
<circle cx="207.2" cy="1015.5" r="5.45"/>
<circle cx="194.7" cy="986.7" r="5.45"/>
<circle cx="183.8" cy="1075.3" r="5.45"/>
<circle cx="206.0" cy="1181.6" r="5.45"/>
<circle cx="198.8" cy="1028.3" r="5.45"/>
<circle cx="186.1" cy="967.2" r="5.45"/>
<circle cx="204.1" cy="945.5" r="5.45"/>
<circle cx="186.5" cy="916.2" r="5.45"/>
<circle cx="201.1" cy="1000.3" r="5.45"/>
<circle cx="204.8" cy="1038.8" r="5.45"/>
<circle cx="203.4" cy="1051.8" r="5.45"/>
<circle cx="192.4" cy="997.5" r="5.45"/>
<circle cx="201.0" cy="1190.0" r="5.45"/>
</g>
<g fill="#1e6e0a" stroke="#2ec42e" stroke-width="0.9">
<circle cx="321.2" cy="999.8" r="5.40"/>
<circle cx="327.8" cy="1000.2" r="5.40"/>
<circle cx="337.6" cy="972.6" r="5.40"/>
<circle cx="321.8" cy="965.5" r="5.40"/>
<circle cx="320.8" cy="1077.5" r="5.40"/>
<circle cx="343.5" cy="1028.9" r="5.40"/>
<circle cx="336.6" cy="993.3" r="5.40"/>
<circle cx="343.3" cy="1125.1" r="5.40"/>
<circle cx="339.5" cy="998.5" r="5.40"/>
<circle cx="342.7" cy="966.8" r="5.40"/>
<circle cx="341.8" cy="1035.0" r="5.40"/>
<circle cx="330.1" cy="1108.2" r="5.40"/>
<circle cx="324.3" cy="1084.1" r="5.40"/>
<circle cx="332.1" cy="1045.5" r="5.40"/>
<circle cx="338.3" cy="1049.0" r="5.40"/>
<circle cx="320.8" cy="1013.6" r="5.40"/>
<circle cx="342.7" cy="1095.4" r="5.40"/>
<circle cx="335.6" cy="1080.6" r="5.40"/>
<circle cx="328.2" cy="1028.0" r="5.40"/>
<circle cx="340.0" cy="1026.3" r="5.40"/>
<circle cx="322.5" cy="1021.0" r="5.40"/>
<circle cx="321.9" cy="974.6" r="5.40"/>
<circle cx="333.0" cy="1035.0" r="5.40"/>
<circle cx="333.9" cy="1104.7" r="5.40"/>
<circle cx="343.3" cy="976.2" r="5.40"/>
<circle cx="330.4" cy="1150.8" r="5.40"/>
<circle cx="344.4" cy="996.6" r="5.40"/>
<circle cx="335.3" cy="966.6" r="5.40"/>
<circle cx="334.8" cy="1093.3" r="5.40"/>
<circle cx="332.1" cy="1078.4" r="5.40"/>
<circle cx="321.1" cy="1137.1" r="5.40"/>
<circle cx="319.0" cy="1067.9" r="5.40"/>
<circle cx="323.4" cy="1053.4" r="5.40"/>
<circle cx="343.2" cy="990.4" r="5.40"/>
<circle cx="323.8" cy="1046.0" r="5.40"/>
<circle cx="344.5" cy="1117.5" r="5.40"/>
<circle cx="323.3" cy="982.4" r="5.40"/>
<circle cx="333.9" cy="1010.9" r="5.40"/>
<circle cx="336.9" cy="981.9" r="5.40"/>
<circle cx="337.4" cy="1066.1" r="5.40"/>
<circle cx="337.4" cy="986.2" r="5.40"/>
<circle cx="334.8" cy="1001.8" r="5.40"/>
<circle cx="346.6" cy="1000.9" r="5.40"/>
<circle cx="333.5" cy="955.4" r="5.40"/>
<circle cx="341.4" cy="981.5" r="5.40"/>
<circle cx="330.4" cy="1054.7" r="5.40"/>
<circle cx="346.2" cy="1036.8" r="5.40"/>
<circle cx="348.8" cy="1095.0" r="5.40"/>
<circle cx="333.2" cy="976.3" r="5.40"/>
<circle cx="321.2" cy="1005.3" r="5.40"/>
<circle cx="331.6" cy="988.5" r="5.40"/>
<circle cx="332.8" cy="997.2" r="5.40"/>
<circle cx="343.6" cy="985.5" r="5.40"/>
<circle cx="329.3" cy="1142.3" r="5.40"/>
<circle cx="343.5" cy="1049.5" r="5.40"/>
<circle cx="326.0" cy="1033.3" r="5.40"/>
<circle cx="326.9" cy="1123.7" r="5.40"/>
<circle cx="326.6" cy="987.3" r="5.40"/>
<circle cx="332.2" cy="909.3" r="5.40"/>
<circle cx="347.0" cy="1018.0" r="5.40"/>
<circle cx="322.8" cy="991.2" r="5.40"/>
<circle cx="330.4" cy="982.3" r="5.40"/>
<circle cx="326.0" cy="1087.6" r="5.40"/>
<circle cx="342.7" cy="1073.6" r="5.40"/>
<circle cx="343.5" cy="1041.2" r="5.40"/>
<circle cx="328.7" cy="965.9" r="5.40"/>
<circle cx="328.1" cy="977.9" r="5.40"/>
<circle cx="340.9" cy="1014.9" r="5.40"/>
<circle cx="327.3" cy="971.6" r="5.40"/>
<circle cx="325.8" cy="940.1" r="5.40"/>
<circle cx="343.5" cy="1086.3" r="5.40"/>
<circle cx="346.2" cy="1161.3" r="5.40"/>
<circle cx="327.2" cy="994.4" r="5.40"/>
<circle cx="321.6" cy="957.1" r="5.40"/>
<circle cx="333.9" cy="1021.0" r="5.40"/>
<circle cx="325.1" cy="951.9" r="5.40"/>
<circle cx="326.0" cy="1066.1" r="5.40"/>
</g>
<g fill="#d7006e" stroke="#8a0a4a" stroke-width="0.8">
<circle cx="484.3" cy="994.9" r="5.45"/>
<circle cx="474.8" cy="1033.8" r="5.45"/>
<circle cx="475.1" cy="1020.5" r="5.45"/>
<circle cx="469.6" cy="999.1" r="5.45"/>
<circle cx="470.1" cy="972.6" r="5.45"/>
<circle cx="458.2" cy="1025.4" r="5.45"/>
<circle cx="472.9" cy="986.3" r="5.45"/>
<circle cx="468.5" cy="1171.5" r="5.45"/>
<circle cx="467.7" cy="992.8" r="5.45"/>
<circle cx="469.7" cy="1021.4" r="5.45"/>
<circle cx="475.3" cy="1053.4" r="5.45"/>
<circle cx="476.5" cy="976.7" r="5.45"/>
<circle cx="484.6" cy="1008.7" r="5.45"/>
<circle cx="483.5" cy="1024.9" r="5.45"/>
<circle cx="477.3" cy="1076.5" r="5.45"/>
<circle cx="458.9" cy="1057.3" r="5.45"/>
<circle cx="458.6" cy="950.9" r="5.45"/>
<circle cx="467.7" cy="1084.2" r="5.45"/>
<circle cx="471.7" cy="980.1" r="5.45"/>
<circle cx="482.3" cy="1019.2" r="5.45"/>
<circle cx="478.6" cy="1144.6" r="5.45"/>
<circle cx="461.8" cy="995.1" r="5.45"/>
<circle cx="477.4" cy="1000.9" r="5.45"/>
<circle cx="479.3" cy="968.5" r="5.45"/>
<circle cx="483.6" cy="1129.5" r="5.45"/>
<circle cx="474.5" cy="968.3" r="5.45"/>
<circle cx="483.7" cy="962.7" r="5.45"/>
<circle cx="470.2" cy="962.5" r="5.45"/>
<circle cx="462.2" cy="1132.2" r="5.45"/>
<circle cx="467.3" cy="1033.6" r="5.45"/>
<circle cx="465.4" cy="1014.7" r="5.45"/>
<circle cx="478.3" cy="991.5" r="5.45"/>
<circle cx="462.2" cy="980.6" r="5.45"/>
<circle cx="475.1" cy="1026.1" r="5.45"/>
<circle cx="485.8" cy="1014.7" r="5.45"/>
<circle cx="475.8" cy="1014.2" r="5.45"/>
<circle cx="467.7" cy="1040.2" r="5.45"/>
<circle cx="476.7" cy="1008.5" r="5.45"/>
<circle cx="457.8" cy="986.2" r="5.45"/>
<circle cx="464.3" cy="986.3" r="5.45"/>
<circle cx="466.5" cy="977.4" r="5.45"/>
<circle cx="469.9" cy="1027.2" r="5.45"/>
<circle cx="480.0" cy="1099.3" r="5.45"/>
<circle cx="482.8" cy="1071.0" r="5.45"/>
<circle cx="460.8" cy="1147.9" r="5.45"/>
<circle cx="460.3" cy="964.4" r="5.45"/>
<circle cx="469.9" cy="1004.4" r="5.45"/>
<circle cx="475.9" cy="1044.4" r="5.45"/>
<circle cx="461.6" cy="1084.2" r="5.45"/>
<circle cx="485.8" cy="987.5" r="5.45"/>
<circle cx="464.3" cy="1001.7" r="5.45"/>
<circle cx="464.9" cy="1196.2" r="5.45"/>
<circle cx="480.0" cy="1095.1" r="5.45"/>
<circle cx="458.9" cy="1003.2" r="5.45"/>
<circle cx="463.6" cy="1022.5" r="5.45"/>
<circle cx="471.9" cy="1012.9" r="5.45"/>
<circle cx="460.8" cy="1098.4" r="5.45"/>
<circle cx="484.7" cy="1002.4" r="5.45"/>
<circle cx="472.6" cy="992.2" r="5.45"/>
<circle cx="475.9" cy="1144.6" r="5.45"/>
<circle cx="467.1" cy="1114.4" r="5.45"/>
<circle cx="466.4" cy="1008.9" r="5.45"/>
<circle cx="464.2" cy="970.7" r="5.45"/>
<circle cx="478.8" cy="962.2" r="5.45"/>
<circle cx="458.0" cy="1137.7" r="5.45"/>
<circle cx="460.0" cy="1108.9" r="5.45"/>
<circle cx="477.3" cy="982.8" r="5.45"/>
<circle cx="471.8" cy="1132.2" r="5.45"/>
</g>
<g fill="#ff8000" stroke="#b05a20" stroke-width="0.8">
<circle cx="598.7" cy="961.4" r="5.45"/>
<circle cx="612.7" cy="994.3" r="5.45"/>
<circle cx="601.3" cy="1025.2" r="5.45"/>
<circle cx="618.8" cy="1013.0" r="5.45"/>
<circle cx="614.4" cy="998.9" r="5.45"/>
<circle cx="603.4" cy="989.2" r="5.45"/>
<circle cx="613.6" cy="1045.7" r="5.45"/>
<circle cx="619.8" cy="973.2" r="5.45"/>
<circle cx="600.3" cy="1005.1" r="5.45"/>
<circle cx="608.3" cy="1032.2" r="5.45"/>
<circle cx="601.3" cy="948.1" r="5.45"/>
<circle cx="616.8" cy="985.6" r="5.45"/>
<circle cx="599.4" cy="1114.4" r="5.45"/>
<circle cx="612.3" cy="1161.6" r="5.45"/>
<circle cx="601.8" cy="1126.2" r="5.45"/>
<circle cx="608.2" cy="1052.6" r="5.45"/>
<circle cx="598.5" cy="1063.0" r="5.45"/>
<circle cx="607.6" cy="980.8" r="5.45"/>
<circle cx="609.5" cy="1078.1" r="5.45"/>
<circle cx="595.6" cy="1015.1" r="5.45"/>
<circle cx="602.7" cy="966.5" r="5.45"/>
<circle cx="618.8" cy="1025.6" r="5.45"/>
<circle cx="598.4" cy="986.7" r="5.45"/>
<circle cx="602.9" cy="971.7" r="5.45"/>
<circle cx="603.8" cy="977.5" r="5.45"/>
<circle cx="597.2" cy="1033.4" r="5.45"/>
<circle cx="593.4" cy="967.9" r="5.45"/>
<circle cx="606.7" cy="1005.4" r="5.45"/>
<circle cx="597.5" cy="979.8" r="5.45"/>
<circle cx="610.9" cy="1043.5" r="5.45"/>
<circle cx="611.5" cy="985.2" r="5.45"/>
<circle cx="615.2" cy="970.5" r="5.45"/>
<circle cx="617.9" cy="990.6" r="5.45"/>
<circle cx="610.9" cy="1002.4" r="5.45"/>
<circle cx="603.6" cy="984.7" r="5.45"/>
<circle cx="613.3" cy="960.2" r="5.45"/>
<circle cx="598.6" cy="991.8" r="5.45"/>
<circle cx="610.2" cy="971.9" r="5.45"/>
<circle cx="607.6" cy="963.7" r="5.45"/>
<circle cx="599.4" cy="956.9" r="5.45"/>
<circle cx="616.8" cy="1005.2" r="5.45"/>
<circle cx="616.4" cy="1127.5" r="5.45"/>
<circle cx="607.3" cy="993.8" r="5.45"/>
<circle cx="608.2" cy="1034.7" r="5.45"/>
<circle cx="613.1" cy="1103.4" r="5.45"/>
<circle cx="606.3" cy="956.5" r="5.45"/>
<circle cx="601.4" cy="999.6" r="5.45"/>
<circle cx="593.3" cy="973.9" r="5.45"/>
<circle cx="596.9" cy="1032.2" r="5.45"/>
<circle cx="616.9" cy="1067.7" r="5.45"/>
<circle cx="604.0" cy="1040.2" r="5.45"/>
<circle cx="619.2" cy="950.3" r="5.45"/>
<circle cx="619.1" cy="1025.1" r="5.45"/>
<circle cx="599.9" cy="1080.0" r="5.45"/>
<circle cx="614.3" cy="976.6" r="5.45"/>
<circle cx="601.3" cy="1012.0" r="5.45"/>
</g>
</svg></body></html>
